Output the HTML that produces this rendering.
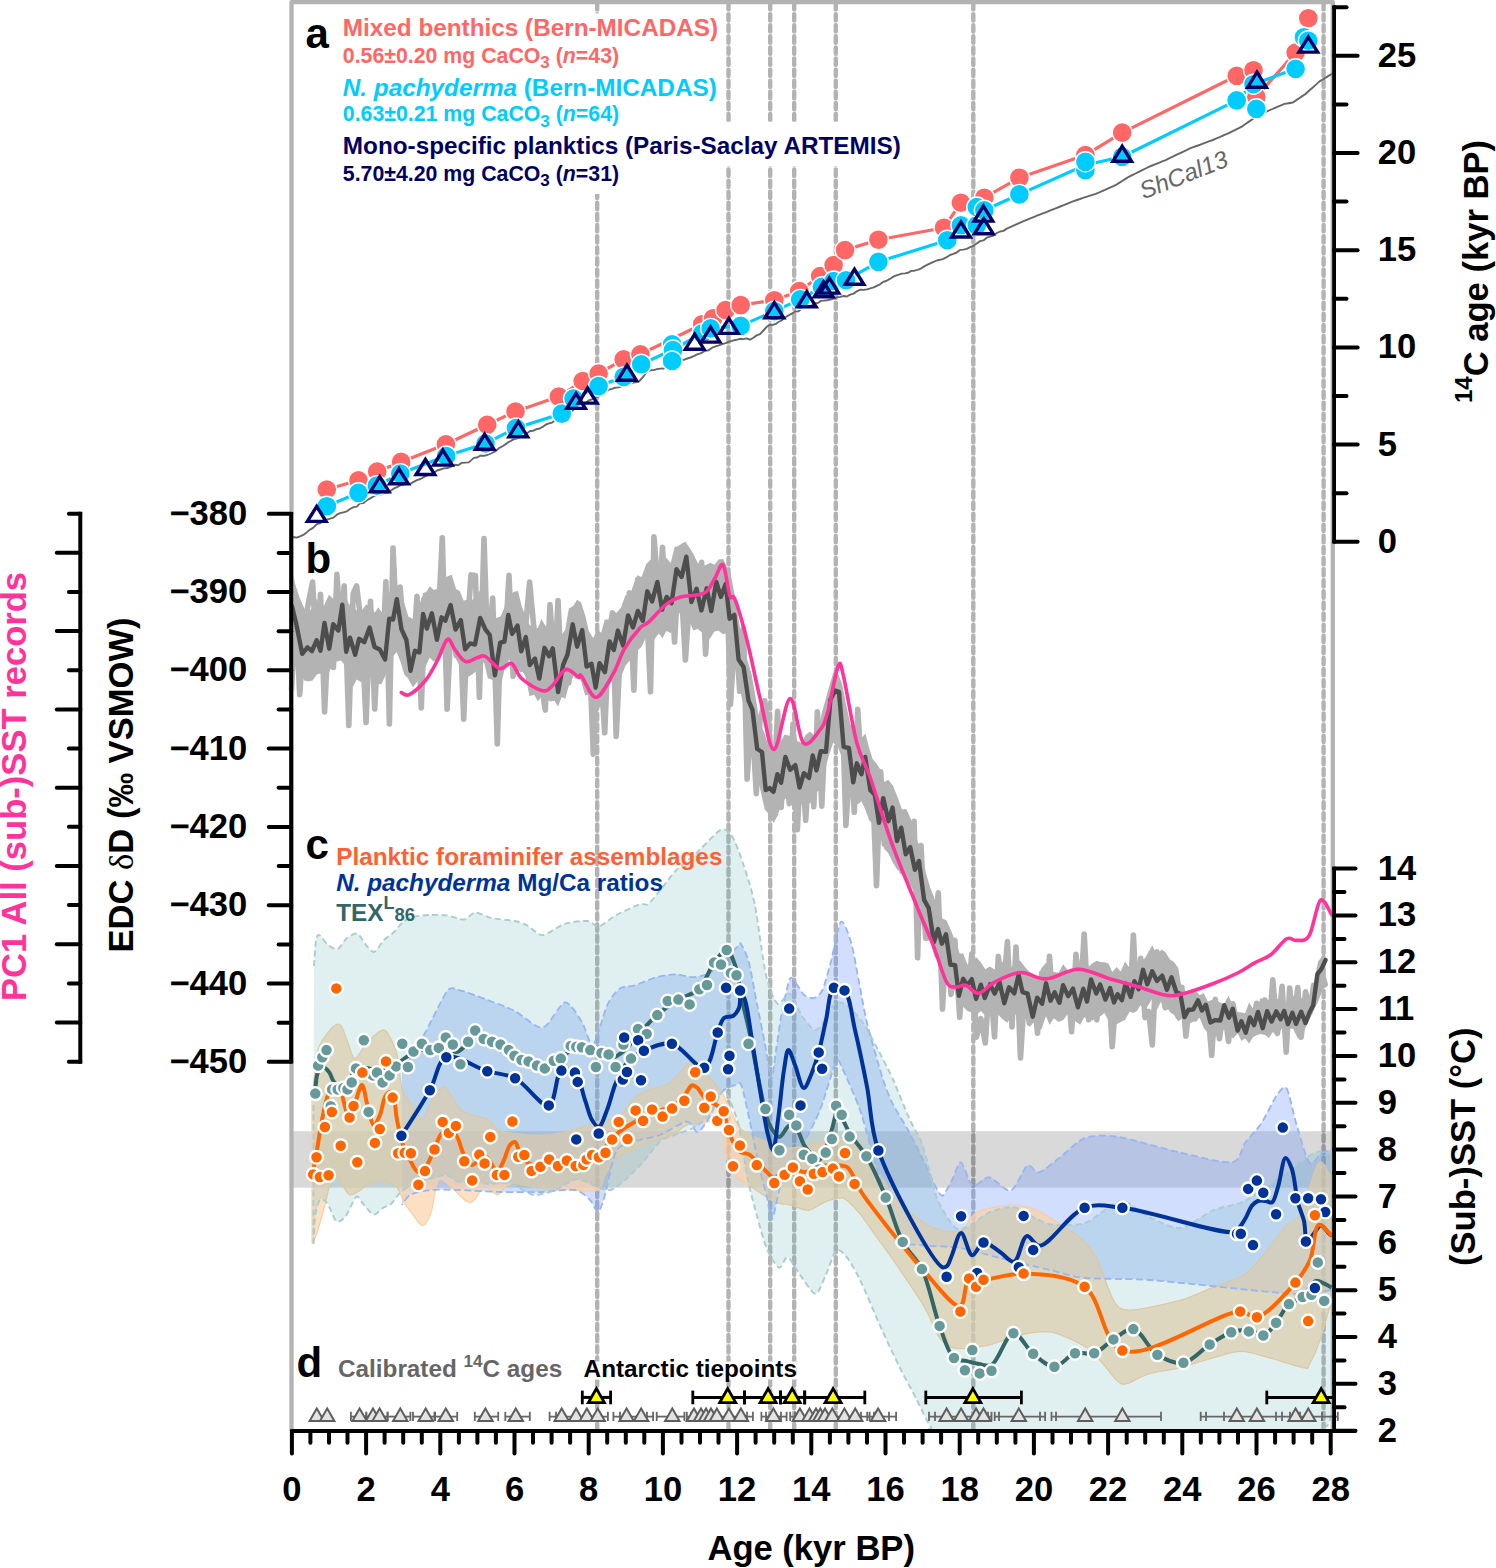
<!DOCTYPE html>
<html><head><meta charset="utf-8"><style>html,body{margin:0;padding:0;background:#fff;}svg{display:block;}</style></head>
<body><svg width="1496" height="1568" viewBox="0 0 1496 1568">
<rect width="1496" height="1568" fill="#fff"/>
<line x1="597.2" y1="3" x2="597.2" y2="1430" stroke="#b3b3b3" stroke-width="4.4" stroke-dasharray="6.4 4.7" stroke-linecap="round"/>
<line x1="728.5" y1="3" x2="728.5" y2="1430" stroke="#b3b3b3" stroke-width="4.4" stroke-dasharray="6.4 4.7" stroke-linecap="round"/>
<line x1="770.2" y1="3" x2="770.2" y2="1430" stroke="#b3b3b3" stroke-width="4.4" stroke-dasharray="6.4 4.7" stroke-linecap="round"/>
<line x1="794.2" y1="3" x2="794.2" y2="1430" stroke="#b3b3b3" stroke-width="4.4" stroke-dasharray="6.4 4.7" stroke-linecap="round"/>
<line x1="835.8" y1="3" x2="835.8" y2="1430" stroke="#b3b3b3" stroke-width="4.4" stroke-dasharray="6.4 4.7" stroke-linecap="round"/>
<line x1="973.3" y1="3" x2="973.3" y2="1430" stroke="#b3b3b3" stroke-width="4.4" stroke-dasharray="6.4 4.7" stroke-linecap="round"/>
<line x1="1323.6" y1="3" x2="1323.6" y2="1430" stroke="#b3b3b3" stroke-width="4.4" stroke-dasharray="6.4 4.7" stroke-linecap="round"/>
<rect x="292" y="1131.2" width="1039" height="56.5" fill="#000" fill-opacity="0.149"/>
<path d="M402 1072 C405.1 1066.8 419 1043.8 425 1033 C431 1022.2 442.7 997 447.2 991.2 C451.7 985.4 453.2 988.7 458.4 989.8 C463.6 990.9 479 996.8 486.5 999.6 C494 1002.4 507 1007.1 514.5 1010.8 C522 1014.5 535.9 1028.8 542.6 1027.7 C549.3 1026.6 559.8 1003.1 565 1002.4 C570.2 1001.7 578.2 1016.5 581.9 1022.1 C585.6 1027.7 589.7 1046.8 593.1 1044.5 C596.5 1042.2 603.6 1012.7 607.2 1005.2 C610.8 997.7 616.4 991 620 988.4 C623.6 985.8 629.1 987.1 634 985.6 C638.9 984.1 650.9 978.7 656.5 977.2 C662.1 975.7 671.1 974.4 676 974.4 C680.9 974.4 688.5 977.4 693 977.2 C697.5 977 705.7 975.3 709.8 973 C713.9 970.7 720.1 963.9 723.8 960.3 C727.5 956.7 735.6 948.5 737.9 946.3 C740.2 944.1 739.5 941.8 741 944 C742.5 946.2 746.9 955 749 963 C751.1 971 754.9 993.2 757 1004 C759.1 1014.8 763.1 1034 765 1044 C766.9 1054 769.9 1078.2 771.4 1079 C772.9 1079.8 774.6 1058.7 776 1050 C777.4 1041.3 779.8 1023.5 781.6 1014 C783.4 1004.5 787.9 983.1 789.8 979 C791.7 974.9 794 980.9 795.9 983 C797.8 985.1 801.6 993 804.1 995 C806.6 997 811.9 998.7 814.3 998 C816.7 997.3 820.2 994.7 822.4 990 C824.6 985.3 828.1 972.1 830.6 963 C833.1 953.9 838.1 924.8 840.8 922 C843.5 919.2 848.5 933.9 851 942 C853.5 950.1 857 972.1 859.2 983 C861.4 993.9 864.1 1011.1 867.3 1024 C870.5 1036.9 879.6 1068.8 883 1079.5 C886.4 1090.2 889.7 1097.7 893 1104.4 C896.3 1111.1 904 1122.7 908 1130 C912 1137.3 919.1 1151.5 922.8 1159.1 C926.5 1166.7 933.3 1182.4 936 1187.3 C938.7 1192.2 940.6 1196.6 942.7 1195.6 C944.8 1194.6 949.6 1184.4 952 1180 C954.4 1175.6 958.3 1161.7 961 1162.4 C963.7 1163.1 968.8 1183.6 972.6 1185.6 C976.4 1187.6 984.1 1176.6 989.2 1177.3 C994.3 1178 1005.6 1192.1 1010.7 1190.6 C1015.8 1189.1 1023.5 1168.1 1027.3 1165.7 C1031.1 1163.3 1034.5 1173.5 1038.9 1172.4 C1043.3 1171.3 1053.9 1162 1060 1157.4 C1066.1 1152.8 1077 1141 1084.6 1138.2 C1092.2 1135.4 1103.9 1134.7 1116.7 1136.6 C1129.5 1138.5 1165.4 1149.3 1180.8 1152.7 C1196.2 1156.1 1223.6 1163.6 1232.2 1162.3 C1240.8 1161 1241.2 1148.1 1245 1143 C1248.8 1137.9 1256.7 1130.2 1261 1123.8 C1265.3 1117.4 1273.7 1099.6 1277.1 1094.9 C1280.5 1090.2 1284.1 1084.6 1286.7 1088.5 C1289.3 1092.4 1293.3 1114 1296.3 1123.8 C1299.3 1133.6 1305.8 1158.4 1309.2 1162.3 C1312.6 1166.2 1319.1 1154.3 1322 1152.7 C1324.9 1151.1 1329.8 1150.4 1331 1150 L1331 1290 C1326.9 1290.5 1310.8 1294 1300 1294 C1289.2 1294 1270 1291.9 1250 1290 C1230 1288.1 1172 1281.6 1150 1280 C1128 1278.4 1098.3 1279.3 1085 1278 C1071.7 1276.7 1061.3 1272.7 1050 1270 C1038.7 1267.3 1012 1260.9 1000 1258 C988 1255.1 970.7 1249.7 960 1248 C949.3 1246.3 927.6 1246.1 920 1245 C912.4 1243.9 907.5 1246.5 903 1240 C898.5 1233.5 889.7 1206.4 886 1196 C882.3 1185.6 878.5 1173.5 875 1162 C871.5 1150.5 864.3 1122.3 860 1110 C855.7 1097.7 846.2 1076.4 843 1070 C839.8 1063.6 839.1 1056.7 836 1062 C832.9 1067.3 824.8 1098.3 820 1110 C815.2 1121.7 805 1140.8 800 1150 C795 1159.2 786.2 1169.8 782.5 1179 C778.8 1188.2 774.2 1216.7 772.1 1219 C770 1221.3 768.7 1204 766.8 1196.4 C764.9 1188.8 761.4 1176.1 758.2 1161.7 C755 1147.3 745.5 1098.9 742.5 1088.7 C739.5 1078.5 738.4 1084.7 735.6 1085.2 C732.8 1085.7 725.4 1087.5 721.7 1092.1 C718 1096.7 711.1 1114.7 707.8 1120 C704.5 1125.3 700.1 1131.9 697.3 1132.1 C694.5 1132.3 691.9 1121.3 686.9 1121.7 C681.9 1122.1 666.3 1132.6 660 1135 C653.7 1137.4 645.7 1138 640 1140 C634.3 1142 621.7 1142.7 617 1150 C612.3 1157.3 607.5 1186.7 605 1195 C602.5 1203.3 600 1211.3 598 1212 C596 1212.7 593.1 1202.9 590 1200 C586.9 1197.1 581.7 1191.1 575 1190 C568.3 1188.9 550 1191.7 540 1192 C530 1192.3 510.7 1192.3 500 1192 C489.3 1191.7 469.3 1190.3 460 1190 C450.7 1189.7 436.7 1189.3 430 1190 C423.3 1190.7 413.7 1193 410 1195 C406.3 1197 403.1 1203.7 402 1205 Z" fill="rgb(111,152,249)" fill-opacity="0.32" stroke="none"/>
<path d="M312 1100 C312.8 1093.3 315.3 1059.6 318 1050 C320.7 1040.4 329.1 1031 332.1 1027.7 C335.1 1024.4 338.5 1023.3 340.5 1024.9 C342.5 1026.5 345.1 1035.5 347 1040 C348.9 1044.5 352.1 1058 354.6 1058.6 C357.1 1059.2 363.1 1047.6 365.8 1044.5 C368.5 1041.4 372.4 1036.9 375 1035 C377.6 1033.1 382.5 1028.1 385.4 1030.5 C388.3 1032.9 394.3 1045 396.6 1052.9 C398.9 1060.8 400 1082.9 402.3 1090 C404.6 1097.1 410.8 1102.5 413.5 1106.5 C416.2 1110.5 420 1120.3 422.4 1119.7 C424.8 1119.1 428.3 1106.4 431.2 1102 C434.1 1097.6 440.3 1085.4 444.4 1086.6 C448.5 1087.8 456.2 1106.5 462.1 1110.9 C468 1115.3 483.5 1117.1 488.5 1119.7 C493.5 1122.3 493.7 1128.6 499.6 1130.7 C505.5 1132.8 524.6 1134.9 532.7 1135.2 C540.8 1135.5 551.2 1134.8 560 1133 C568.8 1131.2 590.8 1124.3 598.8 1121.9 C606.8 1119.5 615.2 1118.6 620 1115.3 C624.8 1112 630.5 1100.9 634.8 1097.4 C639.1 1093.9 647.5 1090.6 652.1 1088.7 C656.7 1086.8 664.9 1086.7 669.5 1083.4 C674.1 1080.1 683.7 1067.5 686.9 1064.3 C690.1 1061.1 691.5 1058.2 693.8 1059.1 C696.1 1060 700.6 1066.9 704.3 1071.3 C708 1075.7 718 1086.5 721.7 1092.1 C725.4 1097.7 729.3 1107.9 732.1 1113 C734.9 1118.1 736.9 1126.2 742.5 1130.4 C748.1 1134.6 767.3 1142 773.8 1144.3 C780.3 1146.6 786.6 1147.8 791.2 1147.8 C795.8 1147.8 803.9 1145.2 808.5 1144.3 C813.1 1143.4 821.3 1141.7 825.9 1140.8 C830.5 1139.9 839.4 1137.7 843.3 1137.3 C847.2 1136.9 851.2 1134.7 855 1138 C858.8 1141.3 866.7 1154.1 872 1162 C877.3 1169.9 888.3 1189 895 1197 C901.7 1205 915.3 1217.5 922 1222 C928.7 1226.5 939.5 1229.9 945 1231 C950.5 1232.1 958.7 1232.5 963 1230 C967.3 1227.5 970.5 1215.3 977 1212 C983.5 1208.7 1004.1 1205.3 1012 1205 C1019.9 1204.7 1030.4 1208 1036 1210 C1041.6 1212 1049.3 1217.2 1054 1220 C1058.7 1222.8 1066.9 1228.1 1071 1231 C1075.1 1233.9 1081.5 1238.3 1085 1242 C1088.5 1245.7 1093 1250.9 1097 1259 C1101 1267.1 1110.2 1296.2 1115 1303 C1119.8 1309.8 1123.9 1310.3 1132.7 1309.9 C1141.5 1309.5 1170.1 1303.2 1180.8 1300.2 C1191.5 1297.2 1204.3 1290.8 1212.9 1287.4 C1221.5 1284 1237.3 1280.2 1245 1274.6 C1252.7 1269 1265.1 1252.3 1270.7 1245.7 C1276.3 1239.1 1282.8 1228.9 1286.7 1224.8 C1290.6 1220.7 1296.1 1222.5 1300 1215 C1303.9 1207.5 1312.7 1175.7 1315.6 1168.7 C1318.5 1161.7 1319.9 1161 1322 1162.3 C1324.1 1163.6 1330.3 1176.2 1331.6 1178.3 L1331.6 1300 C1330.1 1305.3 1323 1331.4 1320 1340 C1317 1348.6 1311.5 1360.7 1309.2 1364.4 C1306.9 1368.1 1311.3 1369.3 1302.7 1367.6 C1294.1 1365.9 1257 1352.9 1245 1351.6 C1233 1350.3 1221.5 1355.9 1212.9 1358 C1204.3 1360.1 1189.4 1365.5 1180.8 1367.6 C1172.2 1369.7 1156 1371.9 1148.7 1374 C1141.4 1376.1 1130.6 1382.8 1126.3 1383.7 C1122 1384.6 1121.5 1384.9 1116.7 1380.4 C1111.9 1375.9 1098.6 1356.4 1090 1350 C1081.4 1343.6 1061.8 1334.3 1052.5 1332.3 C1043.2 1330.3 1028.6 1333.3 1020 1335 C1011.4 1336.7 996.8 1343.4 988.3 1345.2 C979.8 1347 962.6 1349.3 956.2 1348.4 C949.8 1347.5 944.5 1344.3 940.2 1338.7 C935.9 1333.1 930.6 1317.4 924.2 1306.7 C917.8 1296 898.7 1268.1 892.1 1258.5 C885.5 1248.9 879.3 1241 875 1235 C870.7 1229 864.2 1218.7 860 1213.8 C855.8 1208.9 847.8 1199.8 843.3 1198.2 C838.8 1196.6 830.5 1200 825.9 1201.6 C821.3 1203.2 813.1 1209.8 808.5 1210.3 C803.9 1210.8 795.8 1206.3 791.2 1205.1 C786.6 1203.9 779.6 1204.4 773.8 1201.6 C768 1198.8 752.3 1187.2 747.7 1184.2 C743.1 1181.2 741.1 1180.6 739 1179 C736.9 1177.4 734 1175.6 732.1 1172.1 C730.2 1168.6 726.5 1159.5 725.1 1153 C723.7 1146.5 725.9 1127.3 721.7 1123.4 C717.5 1119.5 698.9 1122.9 693.8 1123.4 C688.7 1123.9 686.6 1125 683.4 1126.9 C680.2 1128.8 673.7 1135.4 669.5 1137.3 C665.3 1139.2 656.7 1139.4 652.1 1140.8 C647.5 1142.2 639.4 1145.5 634.8 1147.8 C630.2 1150.1 621.4 1154.6 617.4 1158.2 C613.4 1161.8 607.5 1170.8 605 1175 C602.5 1179.2 602.6 1188 598.8 1190 C595 1192 584.6 1190.6 576.8 1190.3 C569 1190 548.2 1188.9 540 1188 C531.8 1187.1 519.5 1184 515 1183.7 C510.5 1183.4 508.5 1184.4 506.2 1185.9 C503.9 1187.4 500.3 1194.7 497.4 1194.7 C494.5 1194.7 487 1185.3 484.1 1185.9 C481.2 1186.5 477.6 1197 475.3 1199.1 C473 1201.2 471.2 1203.9 466.5 1201.3 C461.8 1198.7 444.7 1177.8 440 1179.3 C435.3 1180.8 433.5 1206.2 431.2 1212.4 C428.9 1218.6 425.1 1225.6 422.4 1225.6 C419.7 1225.6 413.7 1215.3 411.3 1212.4 C408.9 1209.5 406.8 1207 404.7 1203.5 C402.6 1200 399.2 1189 395.9 1185.9 C392.6 1182.8 383.5 1180.3 380 1180 C376.5 1179.7 373.5 1181.7 369.4 1183.7 C365.3 1185.7 354.3 1196.2 349.6 1194.7 C344.9 1193.2 337.3 1171.5 334.1 1172.7 C330.9 1173.9 327.6 1195.3 325.3 1203.5 C323 1211.7 318.3 1229.1 316.5 1234.4 C314.7 1239.7 312.7 1242 312.1 1243.2 Z" fill="rgb(252,211,169)" fill-opacity="0.7" stroke="rgb(250,205,160)" stroke-width="1.2"/>
<path d="M314 966 C314.3 962.5 315.3 944.1 316 940 C316.7 935.9 317.9 934.3 319.5 935 C321.1 935.7 325.6 943.1 328 945 C330.4 946.9 335.2 949.9 337.7 949 C340.2 948.1 344.4 940 347 938 C349.6 936 354.9 932.8 357.4 933.7 C359.9 934.6 363.8 942.6 366 945 C368.2 947.4 371.8 952.6 374.2 951.9 C376.6 951.2 381.4 942.6 384 940 C386.6 937.4 391.3 934.7 393.8 932.3 C396.3 929.9 400.4 924.1 403 922 C405.6 919.9 409.9 917.7 413.5 916.8 C417.1 915.9 425.5 915.2 430 915 C434.5 914.8 442.7 914.8 447.2 915.4 C451.7 916 460.3 920 464 919.6 C467.7 919.2 471.5 912.8 475.2 912.6 C478.9 912.4 486.9 917.1 492.1 918.2 C497.3 919.3 509.7 920 514.5 921 C519.3 922 524.3 924.1 528 926 C531.7 927.9 537.7 935.4 542.6 935.1 C547.5 934.8 559 925.7 565 923.8 C571 921.9 583 920.6 587.5 921 C592 921.4 595 927.3 598.7 926.6 C602.4 925.9 610.1 918.4 615.6 915.4 C621.1 912.4 635.7 905.7 640 904.2 C644.3 902.7 645.2 906.4 648.1 904.2 C651 902 658.3 892.5 662 888 C665.7 883.5 671.2 875.4 676.1 870.5 C681 865.6 692.6 856.3 698.6 850.9 C704.6 845.5 716.5 831.7 721 829.8 C725.5 827.9 729.3 832.1 732.3 836.8 C735.3 841.5 740.5 855.9 743.5 864.9 C746.5 873.9 751.7 889.5 754.7 904.2 C757.7 918.9 762.9 961.7 766 975 C769.1 988.3 774.4 1001.2 777.6 1003.7 C780.8 1006.2 786.5 991.9 789.8 993.5 C793.1 995.1 798.7 1011.1 802 1016 C805.3 1020.9 811.6 1028.9 814.3 1030 C817 1031.1 819.7 1027.5 822.4 1024 C825.1 1020.5 831.5 1006.2 834.7 1003.7 C837.9 1001.2 842.7 1002.4 846.5 1005 C850.3 1007.6 858.9 1017.1 863.1 1023.1 C867.3 1029.1 874 1042.2 878 1049.7 C882 1057.2 888.8 1070.2 893 1079.5 C897.2 1088.8 905.6 1110.5 909.6 1119.3 C913.6 1128.1 919.3 1135.6 922.8 1145.8 C926.3 1156 932.5 1185.6 936 1195.6 C939.5 1205.6 946.3 1216 949.4 1220.5 C952.5 1225 956.1 1229.5 959.5 1229.7 C962.9 1229.9 970.9 1224.4 975 1222 C979.1 1219.6 984.8 1214 990 1212 C995.2 1210 1008 1206.4 1014 1207.2 C1020 1208 1029.9 1215.7 1035 1218 C1040.1 1220.3 1045.9 1224.1 1052.5 1224.8 C1059.1 1225.5 1077.6 1225.2 1084.6 1223.2 C1091.6 1221.2 1099.9 1213 1105 1210 C1110.1 1207 1117.2 1199.9 1123 1200.8 C1128.8 1201.7 1141 1213.2 1148.7 1216.8 C1156.4 1220.4 1172.2 1228.9 1180.8 1228 C1189.4 1227.1 1204.3 1214 1212.9 1210.4 C1221.5 1206.8 1236.4 1205.1 1245 1200.8 C1253.6 1196.5 1268.5 1184.3 1277.1 1178.3 C1285.7 1172.3 1303.2 1159.5 1309.2 1155.9 C1315.2 1152.3 1319.1 1151.2 1322 1151.1 C1324.9 1151 1329.8 1154.5 1331 1155 L1331 1415 C1330.5 1416.5 1329.3 1423.9 1327 1426 C1324.7 1428.1 1318.9 1430.3 1314 1431 C1309.1 1431.7 1339.2 1431 1290 1431 C1240.8 1431 992.9 1431.5 945 1431 C897.1 1430.5 934.9 1431.4 931 1427 C927.1 1422.6 920.1 1405.9 916 1398 C911.9 1390.1 904.5 1377.1 900 1368 C895.5 1358.9 887.3 1341.8 882 1330 C876.7 1318.2 864.7 1289.5 860 1279.8 C855.3 1270.1 849.9 1261.1 846.8 1257.2 C843.7 1253.3 839.2 1248 836.4 1250.3 C833.6 1252.6 828.7 1268.8 825.9 1274.6 C823.1 1280.4 819 1293.7 815.5 1293.7 C812 1293.7 803.6 1279.5 799.9 1274.6 C796.2 1269.7 790.5 1258.1 787.7 1257.2 C784.9 1256.3 781.8 1268.8 779 1267.7 C776.2 1266.6 769.8 1255.8 766.8 1248.6 C763.8 1241.4 758.9 1223.1 756.4 1213.8 C753.9 1204.5 750 1190.6 747.7 1179 C745.4 1167.4 741.5 1137.9 739 1127 C736.5 1116.1 730.9 1102.1 728.6 1097.4 C726.3 1092.7 724 1090 721.7 1092.1 C719.4 1094.2 714.7 1108.4 711.2 1113 C707.7 1117.6 700 1124.1 695.6 1126.9 C691.2 1129.7 682.8 1131.9 678.2 1133.8 C673.6 1135.7 665.4 1137.1 660.8 1140.8 C656.2 1144.5 648 1156.6 643.4 1161.7 C638.8 1166.8 630.2 1175.3 626 1179 C621.8 1182.7 615.5 1188.3 612 1189.5 C608.5 1190.7 604.7 1189.4 600 1188 C595.3 1186.6 582.8 1179 576.8 1179.3 C570.8 1179.6 560.6 1188.2 554.7 1190.3 C548.8 1192.4 538.6 1195.6 532.7 1194.7 C526.8 1193.8 516.5 1185.2 510.6 1183.7 C504.7 1182.2 495.6 1184 488.5 1183.7 C481.4 1183.4 463.6 1182.7 457.7 1181.5 C451.8 1180.3 450.6 1174.3 444.4 1174.9 C438.2 1175.5 417.2 1183.6 411.3 1185.9 C405.4 1188.2 402.9 1190.2 400.3 1192.5 C397.7 1194.8 393.8 1201.4 391.5 1203.5 C389.2 1205.6 385.1 1206.5 382.7 1208 C380.3 1209.5 376.5 1215.2 373.8 1214.6 C371.1 1214 365.1 1205.9 362.8 1203.5 C360.5 1201.1 358.5 1195.1 356.2 1196.9 C353.9 1198.7 347.9 1213.6 345.2 1216.8 C342.5 1220 338.7 1223 336.3 1221.2 C333.9 1219.4 329.6 1206.4 327.5 1203.5 C325.4 1200.6 322.4 1198.5 320.9 1199.1 C319.4 1199.7 317.4 1204.5 316.5 1208 C315.6 1211.5 314.7 1221.3 314.3 1225.6 C313.9 1229.9 313.6 1256.7 313.5 1240 C313.4 1223.3 313.5 1118.7 313.5 1100 Z" fill="rgb(100,178,178)" fill-opacity="0.2" stroke="none"/>
<path d="M402 1072 C405.1 1066.8 419 1043.8 425 1033 C431 1022.2 442.7 997 447.2 991.2 C451.7 985.4 453.2 988.7 458.4 989.8 C463.6 990.9 479 996.8 486.5 999.6 C494 1002.4 507 1007.1 514.5 1010.8 C522 1014.5 535.9 1028.8 542.6 1027.7 C549.3 1026.6 559.8 1003.1 565 1002.4 C570.2 1001.7 578.2 1016.5 581.9 1022.1 C585.6 1027.7 589.7 1046.8 593.1 1044.5 C596.5 1042.2 603.6 1012.7 607.2 1005.2 C610.8 997.7 616.4 991 620 988.4 C623.6 985.8 629.1 987.1 634 985.6 C638.9 984.1 650.9 978.7 656.5 977.2 C662.1 975.7 671.1 974.4 676 974.4 C680.9 974.4 688.5 977.4 693 977.2 C697.5 977 705.7 975.3 709.8 973 C713.9 970.7 720.1 963.9 723.8 960.3 C727.5 956.7 735.6 948.5 737.9 946.3 C740.2 944.1 739.5 941.8 741 944 C742.5 946.2 746.9 955 749 963 C751.1 971 754.9 993.2 757 1004 C759.1 1014.8 763.1 1034 765 1044 C766.9 1054 769.9 1078.2 771.4 1079 C772.9 1079.8 774.6 1058.7 776 1050 C777.4 1041.3 779.8 1023.5 781.6 1014 C783.4 1004.5 787.9 983.1 789.8 979 C791.7 974.9 794 980.9 795.9 983 C797.8 985.1 801.6 993 804.1 995 C806.6 997 811.9 998.7 814.3 998 C816.7 997.3 820.2 994.7 822.4 990 C824.6 985.3 828.1 972.1 830.6 963 C833.1 953.9 838.1 924.8 840.8 922 C843.5 919.2 848.5 933.9 851 942 C853.5 950.1 857 972.1 859.2 983 C861.4 993.9 864.1 1011.1 867.3 1024 C870.5 1036.9 879.6 1068.8 883 1079.5 C886.4 1090.2 889.7 1097.7 893 1104.4 C896.3 1111.1 904 1122.7 908 1130 C912 1137.3 919.1 1151.5 922.8 1159.1 C926.5 1166.7 933.3 1182.4 936 1187.3 C938.7 1192.2 940.6 1196.6 942.7 1195.6 C944.8 1194.6 949.6 1184.4 952 1180 C954.4 1175.6 958.3 1161.7 961 1162.4 C963.7 1163.1 968.8 1183.6 972.6 1185.6 C976.4 1187.6 984.1 1176.6 989.2 1177.3 C994.3 1178 1005.6 1192.1 1010.7 1190.6 C1015.8 1189.1 1023.5 1168.1 1027.3 1165.7 C1031.1 1163.3 1034.5 1173.5 1038.9 1172.4 C1043.3 1171.3 1053.9 1162 1060 1157.4 C1066.1 1152.8 1077 1141 1084.6 1138.2 C1092.2 1135.4 1103.9 1134.7 1116.7 1136.6 C1129.5 1138.5 1165.4 1149.3 1180.8 1152.7 C1196.2 1156.1 1223.6 1163.6 1232.2 1162.3 C1240.8 1161 1241.2 1148.1 1245 1143 C1248.8 1137.9 1256.7 1130.2 1261 1123.8 C1265.3 1117.4 1273.7 1099.6 1277.1 1094.9 C1280.5 1090.2 1284.1 1084.6 1286.7 1088.5 C1289.3 1092.4 1293.3 1114 1296.3 1123.8 C1299.3 1133.6 1305.8 1158.4 1309.2 1162.3 C1312.6 1166.2 1319.1 1154.3 1322 1152.7 C1324.9 1151.1 1329.8 1150.4 1331 1150" fill="none" stroke="rgb(150,182,245)" stroke-width="1.8" stroke-dasharray="7 3.5"/>
<path d="M1331 1290 C1326.9 1290.5 1310.8 1294 1300 1294 C1289.2 1294 1270 1291.9 1250 1290 C1230 1288.1 1172 1281.6 1150 1280 C1128 1278.4 1098.3 1279.3 1085 1278 C1071.7 1276.7 1061.3 1272.7 1050 1270 C1038.7 1267.3 1012 1260.9 1000 1258 C988 1255.1 970.7 1249.7 960 1248 C949.3 1246.3 927.6 1246.1 920 1245 C912.4 1243.9 907.5 1246.5 903 1240 C898.5 1233.5 889.7 1206.4 886 1196 C882.3 1185.6 878.5 1173.5 875 1162 C871.5 1150.5 864.3 1122.3 860 1110 C855.7 1097.7 846.2 1076.4 843 1070 C839.8 1063.6 839.1 1056.7 836 1062 C832.9 1067.3 824.8 1098.3 820 1110 C815.2 1121.7 805 1140.8 800 1150 C795 1159.2 786.2 1169.8 782.5 1179 C778.8 1188.2 774.2 1216.7 772.1 1219 C770 1221.3 768.7 1204 766.8 1196.4 C764.9 1188.8 761.4 1176.1 758.2 1161.7 C755 1147.3 745.5 1098.9 742.5 1088.7 C739.5 1078.5 738.4 1084.7 735.6 1085.2 C732.8 1085.7 725.4 1087.5 721.7 1092.1 C718 1096.7 711.1 1114.7 707.8 1120 C704.5 1125.3 700.1 1131.9 697.3 1132.1 C694.5 1132.3 691.9 1121.3 686.9 1121.7 C681.9 1122.1 666.3 1132.6 660 1135 C653.7 1137.4 645.7 1138 640 1140 C634.3 1142 621.7 1142.7 617 1150 C612.3 1157.3 607.5 1186.7 605 1195 C602.5 1203.3 600 1211.3 598 1212 C596 1212.7 593.1 1202.9 590 1200 C586.9 1197.1 581.7 1191.1 575 1190 C568.3 1188.9 550 1191.7 540 1192 C530 1192.3 510.7 1192.3 500 1192 C489.3 1191.7 469.3 1190.3 460 1190 C450.7 1189.7 436.7 1189.3 430 1190 C423.3 1190.7 413.7 1193 410 1195 C406.3 1197 403.1 1203.7 402 1205" fill="none" stroke="rgb(150,182,245)" stroke-width="1.8" stroke-dasharray="7 3.5"/>
<path d="M314 966 C314.3 962.5 315.3 944.1 316 940 C316.7 935.9 317.9 934.3 319.5 935 C321.1 935.7 325.6 943.1 328 945 C330.4 946.9 335.2 949.9 337.7 949 C340.2 948.1 344.4 940 347 938 C349.6 936 354.9 932.8 357.4 933.7 C359.9 934.6 363.8 942.6 366 945 C368.2 947.4 371.8 952.6 374.2 951.9 C376.6 951.2 381.4 942.6 384 940 C386.6 937.4 391.3 934.7 393.8 932.3 C396.3 929.9 400.4 924.1 403 922 C405.6 919.9 409.9 917.7 413.5 916.8 C417.1 915.9 425.5 915.2 430 915 C434.5 914.8 442.7 914.8 447.2 915.4 C451.7 916 460.3 920 464 919.6 C467.7 919.2 471.5 912.8 475.2 912.6 C478.9 912.4 486.9 917.1 492.1 918.2 C497.3 919.3 509.7 920 514.5 921 C519.3 922 524.3 924.1 528 926 C531.7 927.9 537.7 935.4 542.6 935.1 C547.5 934.8 559 925.7 565 923.8 C571 921.9 583 920.6 587.5 921 C592 921.4 595 927.3 598.7 926.6 C602.4 925.9 610.1 918.4 615.6 915.4 C621.1 912.4 635.7 905.7 640 904.2 C644.3 902.7 645.2 906.4 648.1 904.2 C651 902 658.3 892.5 662 888 C665.7 883.5 671.2 875.4 676.1 870.5 C681 865.6 692.6 856.3 698.6 850.9 C704.6 845.5 716.5 831.7 721 829.8 C725.5 827.9 729.3 832.1 732.3 836.8 C735.3 841.5 740.5 855.9 743.5 864.9 C746.5 873.9 751.7 889.5 754.7 904.2 C757.7 918.9 762.9 961.7 766 975 C769.1 988.3 774.4 1001.2 777.6 1003.7 C780.8 1006.2 786.5 991.9 789.8 993.5 C793.1 995.1 798.7 1011.1 802 1016 C805.3 1020.9 811.6 1028.9 814.3 1030 C817 1031.1 819.7 1027.5 822.4 1024 C825.1 1020.5 831.5 1006.2 834.7 1003.7 C837.9 1001.2 842.7 1002.4 846.5 1005 C850.3 1007.6 858.9 1017.1 863.1 1023.1 C867.3 1029.1 874 1042.2 878 1049.7 C882 1057.2 888.8 1070.2 893 1079.5 C897.2 1088.8 905.6 1110.5 909.6 1119.3 C913.6 1128.1 919.3 1135.6 922.8 1145.8 C926.3 1156 932.5 1185.6 936 1195.6 C939.5 1205.6 946.3 1216 949.4 1220.5 C952.5 1225 956.1 1229.5 959.5 1229.7 C962.9 1229.9 970.9 1224.4 975 1222 C979.1 1219.6 984.8 1214 990 1212 C995.2 1210 1008 1206.4 1014 1207.2 C1020 1208 1029.9 1215.7 1035 1218 C1040.1 1220.3 1045.9 1224.1 1052.5 1224.8 C1059.1 1225.5 1077.6 1225.2 1084.6 1223.2 C1091.6 1221.2 1099.9 1213 1105 1210 C1110.1 1207 1117.2 1199.9 1123 1200.8 C1128.8 1201.7 1141 1213.2 1148.7 1216.8 C1156.4 1220.4 1172.2 1228.9 1180.8 1228 C1189.4 1227.1 1204.3 1214 1212.9 1210.4 C1221.5 1206.8 1236.4 1205.1 1245 1200.8 C1253.6 1196.5 1268.5 1184.3 1277.1 1178.3 C1285.7 1172.3 1303.2 1159.5 1309.2 1155.9 C1315.2 1152.3 1319.1 1151.2 1322 1151.1 C1324.9 1151 1329.8 1154.5 1331 1155" fill="none" stroke="rgb(170,205,207)" stroke-width="1.9" stroke-dasharray="6 3.5"/>
<path d="M1331 1415 C1330.5 1416.5 1329.3 1423.9 1327 1426 C1324.7 1428.1 1318.9 1430.3 1314 1431 C1309.1 1431.7 1339.2 1431 1290 1431 C1240.8 1431 992.9 1431.5 945 1431 C897.1 1430.5 934.9 1431.4 931 1427 C927.1 1422.6 920.1 1405.9 916 1398 C911.9 1390.1 904.5 1377.1 900 1368 C895.5 1358.9 887.3 1341.8 882 1330 C876.7 1318.2 864.7 1289.5 860 1279.8 C855.3 1270.1 849.9 1261.1 846.8 1257.2 C843.7 1253.3 839.2 1248 836.4 1250.3 C833.6 1252.6 828.7 1268.8 825.9 1274.6 C823.1 1280.4 819 1293.7 815.5 1293.7 C812 1293.7 803.6 1279.5 799.9 1274.6 C796.2 1269.7 790.5 1258.1 787.7 1257.2 C784.9 1256.3 781.8 1268.8 779 1267.7 C776.2 1266.6 769.8 1255.8 766.8 1248.6 C763.8 1241.4 758.9 1223.1 756.4 1213.8 C753.9 1204.5 750 1190.6 747.7 1179 C745.4 1167.4 741.5 1137.9 739 1127 C736.5 1116.1 730.9 1102.1 728.6 1097.4 C726.3 1092.7 724 1090 721.7 1092.1 C719.4 1094.2 714.7 1108.4 711.2 1113 C707.7 1117.6 700 1124.1 695.6 1126.9 C691.2 1129.7 682.8 1131.9 678.2 1133.8 C673.6 1135.7 665.4 1137.1 660.8 1140.8 C656.2 1144.5 648 1156.6 643.4 1161.7 C638.8 1166.8 630.2 1175.3 626 1179 C621.8 1182.7 615.5 1188.3 612 1189.5 C608.5 1190.7 604.7 1189.4 600 1188 C595.3 1186.6 582.8 1179 576.8 1179.3 C570.8 1179.6 560.6 1188.2 554.7 1190.3 C548.8 1192.4 538.6 1195.6 532.7 1194.7 C526.8 1193.8 516.5 1185.2 510.6 1183.7 C504.7 1182.2 495.6 1184 488.5 1183.7 C481.4 1183.4 463.6 1182.7 457.7 1181.5 C451.8 1180.3 450.6 1174.3 444.4 1174.9 C438.2 1175.5 417.2 1183.6 411.3 1185.9 C405.4 1188.2 402.9 1190.2 400.3 1192.5 C397.7 1194.8 393.8 1201.4 391.5 1203.5 C389.2 1205.6 385.1 1206.5 382.7 1208 C380.3 1209.5 376.5 1215.2 373.8 1214.6 C371.1 1214 365.1 1205.9 362.8 1203.5 C360.5 1201.1 358.5 1195.1 356.2 1196.9 C353.9 1198.7 347.9 1213.6 345.2 1216.8 C342.5 1220 338.7 1223 336.3 1221.2 C333.9 1219.4 329.6 1206.4 327.5 1203.5 C325.4 1200.6 322.4 1198.5 320.9 1199.1 C319.4 1199.7 317.4 1204.5 316.5 1208 C315.6 1211.5 314.7 1221.3 314.3 1225.6 C313.9 1229.9 313.6 1256.7 313.5 1240 C313.4 1223.3 313.5 1118.7 313.5 1100" fill="none" stroke="rgb(170,205,207)" stroke-width="1.9" stroke-dasharray="6 3.5"/>
<path d="M291.5 1431 L291.5 2.1 L1332.8 2.1 L1332.8 1431" fill="none" stroke="#b3b3b3" stroke-width="4.3" stroke-linejoin="round"/>
<path d="M290 537.6 L293.3 537 L296.7 537.6 L300 536.3 L303.3 534.9 L306.7 532.4 L310 529.6 L313.4 527.7 L316.7 524.2 L320.1 523.3 L323.4 521.2 L326.8 519.7 L330.1 518.6 L333.5 517.6 L336.8 514.7 L340.1 513.2 L343.4 512.3 L346.8 511.3 L350.1 509 L353.5 507.1 L356.8 506.6 L360.1 503.2 L363.5 503 L366.9 500.3 L370.2 498.4 L373.5 496.5 L376.9 495 L380.2 495 L383.6 493.1 L386.9 492.9 L390.3 491.1 L393.6 488.7 L397 487.1 L400.3 485.4 L403.6 484.5 L407 483.9 L410.3 483.9 L413.6 481.9 L417 480.1 L420.4 479 L423.7 477.2 L427 475.4 L430.4 474.7 L433.7 472.9 L437.1 470.5 L440.4 469.5 L443.9 468.4 L447.5 468 L451.1 466.7 L454.6 464.8 L458.2 465.2 L461.7 462.9 L465.2 462.6 L468.8 462.4 L473.8 457.9 L477.1 457.5 L480.5 455.7 L483.8 455.8 L487.2 455 L490.5 453.6 L494.7 451.7 L498.9 448.2 L503 446 L507.2 442.9 L510.4 441.2 L513.5 439.4 L516.7 438.5 L520 437.2 L523.4 434.8 L526.7 433.6 L530.1 431 L533.4 430.7 L536.5 429.2 L539.7 428.5 L542.8 426.8 L546 424.5 L549.1 423.3 L552.2 422.5 L555.4 420 L558.5 419.4 L561.8 416.7 L565.2 414.5 L568.5 412.2 L571.9 411.3 L575.2 407.9 L578.5 406.3 L581.9 404.7 L585.2 403.7 L588.6 400.5 L591.9 399.3 L595.2 397.6 L598.6 396.4 L601.9 394.5 L605.3 392.7 L608.6 389.8 L612 388.9 L615.3 387.6 L618.6 387.4 L622 386.4 L625.3 384.2 L628.7 383.5 L632 382.9 L635.4 382.2 L638.7 381.9 L642.9 377.1 L647 371.5 L650.4 370.2 L653.7 370.1 L657 369.1 L660.4 368.6 L663.8 368.5 L667.1 367.1 L670.5 364.8 L673.8 362.9 L677.1 361.8 L680.5 359.5 L683.8 359.9 L687.2 358.5 L690.5 357.5 L693.8 356.2 L697.2 354.4 L700.5 353.3 L704.4 351.1 L708.3 350.4 L712.2 347.7 L715.6 346.4 L718.9 345.4 L722.2 344.1 L725.6 343.1 L729.2 341.6 L732.8 340.6 L736.4 339.8 L740 338.8 L743.3 339.1 L746.7 338.3 L750 339.7 L753.3 337.7 L756.7 335.4 L760 334.1 L763.4 330.5 L766.7 326.8 L769.7 325 L772.7 324.9 L775.8 323.9 L778.8 321.6 L781.8 320.3 L785.1 317.5 L788.5 315.4 L791.8 313.7 L795.1 311.5 L798.5 311.2 L801.8 308.6 L805.2 307 L808.5 307.4 L811.9 305.3 L814.9 303.4 L817.9 303 L820.9 300.9 L823.9 300.6 L826.9 300.3 L830.2 299.5 L833.6 298.6 L836.9 297.3 L840.2 296.9 L843.6 296 L846.9 296.5 L850.2 294.6 L853.6 293.6 L856.9 291.3 L860.3 289.7 L863.6 289.9 L867 289.4 L870.4 288.3 L873.7 287.4 L876.8 285.9 L880 284.3 L883.1 281.9 L886.2 281 L889.4 279.2 L892.5 277.2 L895.7 275.7 L898.8 274.7 L901.9 273.6 L905 273.4 L908.2 272.8 L911.3 270.9 L914.4 270.7 L917.5 269.8 L920.7 268.7 L923.8 266.6 L927 264.9 L930.3 263.4 L933.5 261.9 L936.8 260.5 L940 259.8 L943.3 258.8 L946.7 257.2 L950 255 L953.4 253.8 L956.7 252.5 L960 249.9 L963.4 249.6 L966.7 248.8 L970.1 247.2 L973.4 245.9 L976.7 243.5 L980.1 241.1 L983.4 240.4 L986.8 237.7 L990.1 236.7 L993.4 235.5 L996.8 233 L1000.1 231.5 L1003.5 230.9 L1006.8 228.6 L1010.2 227.1 L1013.5 225.6 L1016.9 224.1 L1020.2 222.6 L1023.6 221.1 L1026.9 219.8 L1030.3 218.4 L1033.6 217.1 L1037 215.7 L1040.3 214.4 L1043.6 213.1 L1047 211.8 L1050.3 210.4 L1053.7 209.1 L1057 207.8 L1060.3 206.5 L1063.7 205.1 L1067 203.8 L1070.4 202.4 L1073.7 201.1 L1076.8 200 L1080 199 L1083.1 197.9 L1086.2 196.9 L1089.4 195.8 L1092.5 194.8 L1095.7 193.8 L1098.8 192.7 L1102.1 191.2 L1105.5 189.7 L1108.8 188.2 L1112.2 186.7 L1115.5 185.2 L1118.8 183.1 L1122.2 181 L1125.5 178.9 L1128.8 176.8 L1132.2 175.1 L1135.5 173.5 L1138.8 171.8 L1142.2 170.1 L1145.6 168.5 L1148.9 166.8 L1152.2 165.5 L1155.6 164.1 L1158.9 162.8 L1162.3 161.4 L1165.6 160.1 L1168.6 158.6 L1171.7 157.2 L1174.8 155.7 L1177.8 154.2 L1180.8 152.8 L1183.9 151.3 L1187 149.9 L1190 148.4 L1193.3 147.2 L1196.5 146 L1199.8 144.8 L1203 143.6 L1206.3 142.4 L1209.5 141.2 L1212.8 140 L1215.9 138.7 L1219 137.4 L1222.1 136 L1225.2 134.7 L1228.3 133.4 L1231.8 131.6 L1235.3 129.8 L1238.8 128.1 L1242.3 126.3 L1245.8 123.8 L1249.3 121.4 L1252.8 119 L1256.3 116.5 L1260.5 114.4 L1264.8 112.3 L1268.1 110.9 L1271.3 109.5 L1274.6 108.1 L1277.9 106.7 L1281.1 105.3 L1284.4 103.9 L1288.6 103.2 L1292.8 102.5 L1296 100.4 L1299.2 98.2 L1302.3 96.1 L1305.5 94 L1309 90.8 L1312.5 87.7 L1316 84.6 L1319.5 81.4 L1322.7 79.5 L1325.8 77.6 L1328.9 75.6 L1332.1 73.7" fill="none" stroke="#666" stroke-width="1.9" stroke-linejoin="round"/>
<path d="M326.8 489.5 L358.5 480.3 L377.2 471.6 L401.1 461.9 L445.9 444.3 L487.2 424.8 L515.5 411.5 L558.8 396.6 L582.7 381 L598.6 373.5 L623.7 359.3 L640.4 354.3 L702.2 324.2 L713.1 318.4 L725.6 310 L740.7 305.1 L774.3 300.2 L799.3 291 L820.2 276 L833.6 265.1 L845 250.1 L878.4 239.7 L944 227.7 L960.9 202.7 L984.3 197.7 L1019.4 177.7 L1085.4 155.1 L1122.2 132.6 L1236.7 75.8 L1253.5 70.2 L1256.3 96.9 L1295.6 52.6 L1308.3 18.2" fill="none" stroke="#ff6666" stroke-width="3.2" stroke-linejoin="round"/>
<path d="M326.8 506.2 L358.5 492.8 L376.9 485.6 L400.3 473.6 L446.2 456 L485.5 443.5 L516 428 L561.8 413.6 L573.5 398.6 L598.6 386.1 L623.7 376.9 L641.2 364.3 L672.1 350 L702.2 333.4 L710.6 328.4 L740.6 325.9 L774.3 311.1 L800.2 299.4 L821.9 286.8 L833.6 281 L846.1 280.2 L878.4 261.8 L947.3 240.2 L960.9 225.3 L976.8 215 L984.3 210.3 L1019.4 194.4 L1085.4 165 L1122.2 156.8 L1236.7 100.4 L1253.5 84.2 L1295.6 68.8 L1308.3 40.7" fill="none" stroke="#00ccff" stroke-width="3.2" stroke-linejoin="round"/>
<circle cx="326.8" cy="489.5" r="10" fill="#ff6666" stroke="#fff" stroke-width="1.4"/>
<circle cx="358.5" cy="480.3" r="10" fill="#ff6666" stroke="#fff" stroke-width="1.4"/>
<circle cx="377.2" cy="471.6" r="10" fill="#ff6666" stroke="#fff" stroke-width="1.4"/>
<circle cx="401.1" cy="461.9" r="10" fill="#ff6666" stroke="#fff" stroke-width="1.4"/>
<circle cx="445.9" cy="444.3" r="10" fill="#ff6666" stroke="#fff" stroke-width="1.4"/>
<circle cx="487.2" cy="424.8" r="10" fill="#ff6666" stroke="#fff" stroke-width="1.4"/>
<circle cx="515.5" cy="411.5" r="10" fill="#ff6666" stroke="#fff" stroke-width="1.4"/>
<circle cx="558.8" cy="396.6" r="10" fill="#ff6666" stroke="#fff" stroke-width="1.4"/>
<circle cx="582.7" cy="381" r="10" fill="#ff6666" stroke="#fff" stroke-width="1.4"/>
<circle cx="598.6" cy="373.5" r="10" fill="#ff6666" stroke="#fff" stroke-width="1.4"/>
<circle cx="623.7" cy="359.3" r="10" fill="#ff6666" stroke="#fff" stroke-width="1.4"/>
<circle cx="640.4" cy="354.3" r="10" fill="#ff6666" stroke="#fff" stroke-width="1.4"/>
<circle cx="702.2" cy="324.2" r="10" fill="#ff6666" stroke="#fff" stroke-width="1.4"/>
<circle cx="713.1" cy="318.4" r="10" fill="#ff6666" stroke="#fff" stroke-width="1.4"/>
<circle cx="725.6" cy="310" r="10" fill="#ff6666" stroke="#fff" stroke-width="1.4"/>
<circle cx="740.7" cy="305.1" r="10" fill="#ff6666" stroke="#fff" stroke-width="1.4"/>
<circle cx="774.3" cy="300.2" r="10" fill="#ff6666" stroke="#fff" stroke-width="1.4"/>
<circle cx="799.3" cy="291" r="10" fill="#ff6666" stroke="#fff" stroke-width="1.4"/>
<circle cx="820.2" cy="276" r="10" fill="#ff6666" stroke="#fff" stroke-width="1.4"/>
<circle cx="833.6" cy="265.1" r="10" fill="#ff6666" stroke="#fff" stroke-width="1.4"/>
<circle cx="845" cy="250.1" r="10" fill="#ff6666" stroke="#fff" stroke-width="1.4"/>
<circle cx="878.4" cy="239.7" r="10" fill="#ff6666" stroke="#fff" stroke-width="1.4"/>
<circle cx="944" cy="227.7" r="10" fill="#ff6666" stroke="#fff" stroke-width="1.4"/>
<circle cx="960.9" cy="202.7" r="10" fill="#ff6666" stroke="#fff" stroke-width="1.4"/>
<circle cx="984.3" cy="197.7" r="10" fill="#ff6666" stroke="#fff" stroke-width="1.4"/>
<circle cx="1019.4" cy="177.7" r="10" fill="#ff6666" stroke="#fff" stroke-width="1.4"/>
<circle cx="1085.4" cy="155.1" r="10" fill="#ff6666" stroke="#fff" stroke-width="1.4"/>
<circle cx="1122.2" cy="132.6" r="10" fill="#ff6666" stroke="#fff" stroke-width="1.4"/>
<circle cx="1236.7" cy="75.8" r="10" fill="#ff6666" stroke="#fff" stroke-width="1.4"/>
<circle cx="1253.5" cy="70.2" r="10" fill="#ff6666" stroke="#fff" stroke-width="1.4"/>
<circle cx="1256.3" cy="96.9" r="10" fill="#ff6666" stroke="#fff" stroke-width="1.4"/>
<circle cx="1295.6" cy="52.6" r="10" fill="#ff6666" stroke="#fff" stroke-width="1.4"/>
<circle cx="1308.3" cy="18.2" r="10" fill="#ff6666" stroke="#fff" stroke-width="1.4"/>
<circle cx="326.8" cy="506.2" r="10" fill="#00ccff" stroke="#fff" stroke-width="1.4"/>
<circle cx="358.5" cy="492.8" r="10" fill="#00ccff" stroke="#fff" stroke-width="1.4"/>
<circle cx="376.9" cy="485.6" r="10" fill="#00ccff" stroke="#fff" stroke-width="1.4"/>
<circle cx="400.3" cy="473.6" r="10" fill="#00ccff" stroke="#fff" stroke-width="1.4"/>
<circle cx="446.2" cy="456" r="10" fill="#00ccff" stroke="#fff" stroke-width="1.4"/>
<circle cx="485.5" cy="443.5" r="10" fill="#00ccff" stroke="#fff" stroke-width="1.4"/>
<circle cx="516" cy="428" r="10" fill="#00ccff" stroke="#fff" stroke-width="1.4"/>
<circle cx="561.8" cy="413.6" r="10" fill="#00ccff" stroke="#fff" stroke-width="1.4"/>
<circle cx="573.5" cy="398.6" r="10" fill="#00ccff" stroke="#fff" stroke-width="1.4"/>
<circle cx="598.6" cy="386.1" r="10" fill="#00ccff" stroke="#fff" stroke-width="1.4"/>
<circle cx="623.7" cy="376.9" r="10" fill="#00ccff" stroke="#fff" stroke-width="1.4"/>
<circle cx="641.2" cy="364.3" r="10" fill="#00ccff" stroke="#fff" stroke-width="1.4"/>
<circle cx="672.1" cy="344.3" r="10" fill="#00ccff" stroke="#fff" stroke-width="1.4"/>
<circle cx="673" cy="350" r="10" fill="#00ccff" stroke="#fff" stroke-width="1.4"/>
<circle cx="672.1" cy="361" r="10" fill="#00ccff" stroke="#fff" stroke-width="1.4"/>
<circle cx="702.2" cy="333.4" r="10" fill="#00ccff" stroke="#fff" stroke-width="1.4"/>
<circle cx="710.6" cy="328.4" r="10" fill="#00ccff" stroke="#fff" stroke-width="1.4"/>
<circle cx="740.6" cy="325.9" r="10" fill="#00ccff" stroke="#fff" stroke-width="1.4"/>
<circle cx="774.3" cy="311.1" r="10" fill="#00ccff" stroke="#fff" stroke-width="1.4"/>
<circle cx="800.2" cy="299.4" r="10" fill="#00ccff" stroke="#fff" stroke-width="1.4"/>
<circle cx="821.9" cy="286.8" r="10" fill="#00ccff" stroke="#fff" stroke-width="1.4"/>
<circle cx="833.6" cy="281" r="10" fill="#00ccff" stroke="#fff" stroke-width="1.4"/>
<circle cx="846.1" cy="280.2" r="10" fill="#00ccff" stroke="#fff" stroke-width="1.4"/>
<circle cx="878.4" cy="261.8" r="10" fill="#00ccff" stroke="#fff" stroke-width="1.4"/>
<circle cx="947.3" cy="240.2" r="10" fill="#00ccff" stroke="#fff" stroke-width="1.4"/>
<circle cx="960.9" cy="225.3" r="10" fill="#00ccff" stroke="#fff" stroke-width="1.4"/>
<circle cx="976.8" cy="225.3" r="10" fill="#00ccff" stroke="#fff" stroke-width="1.4"/>
<circle cx="976.8" cy="207" r="10" fill="#00ccff" stroke="#fff" stroke-width="1.4"/>
<circle cx="984.3" cy="210.3" r="10" fill="#00ccff" stroke="#fff" stroke-width="1.4"/>
<circle cx="1019.4" cy="194.4" r="10" fill="#00ccff" stroke="#fff" stroke-width="1.4"/>
<circle cx="1085.4" cy="170.2" r="10" fill="#00ccff" stroke="#fff" stroke-width="1.4"/>
<circle cx="1085.4" cy="161.8" r="10" fill="#00ccff" stroke="#fff" stroke-width="1.4"/>
<circle cx="1122.2" cy="156.8" r="10" fill="#00ccff" stroke="#fff" stroke-width="1.4"/>
<circle cx="1236.7" cy="100.4" r="10" fill="#00ccff" stroke="#fff" stroke-width="1.4"/>
<circle cx="1253.5" cy="84.2" r="10" fill="#00ccff" stroke="#fff" stroke-width="1.4"/>
<circle cx="1256.3" cy="108.8" r="10" fill="#00ccff" stroke="#fff" stroke-width="1.4"/>
<circle cx="1295.6" cy="68.8" r="10" fill="#00ccff" stroke="#fff" stroke-width="1.4"/>
<circle cx="1304" cy="37.2" r="10" fill="#00ccff" stroke="#fff" stroke-width="1.4"/>
<circle cx="1308.3" cy="40.7" r="10" fill="#00ccff" stroke="#fff" stroke-width="1.4"/>
<path d="M316.7 506.4 L326 521.4 L307.4 521.4 Z" fill="none" stroke="#000066" stroke-width="3.4" stroke-linejoin="miter"/>
<path d="M379.7 476.7 L389 491.7 L370.4 491.7 Z" fill="none" stroke="#000066" stroke-width="3.4" stroke-linejoin="miter"/>
<path d="M399 468.8 L408.3 483.8 L389.7 483.8 Z" fill="none" stroke="#000066" stroke-width="3.4" stroke-linejoin="miter"/>
<path d="M425.4 459.5 L434.7 474.5 L416.1 474.5 Z" fill="none" stroke="#000066" stroke-width="3.4" stroke-linejoin="miter"/>
<path d="M442.9 450.1 L452.2 465.1 L433.6 465.1 Z" fill="none" stroke="#000066" stroke-width="3.4" stroke-linejoin="miter"/>
<path d="M484.7 434.3 L494 449.3 L475.4 449.3 Z" fill="none" stroke="#000066" stroke-width="3.4" stroke-linejoin="miter"/>
<path d="M518.3 421.7 L527.6 436.7 L509 436.7 Z" fill="none" stroke="#000066" stroke-width="3.4" stroke-linejoin="miter"/>
<path d="M576 393.4 L585.3 408.4 L566.7 408.4 Z" fill="none" stroke="#000066" stroke-width="3.4" stroke-linejoin="miter"/>
<path d="M587.7 388.1 L597 403.1 L578.4 403.1 Z" fill="none" stroke="#000066" stroke-width="3.4" stroke-linejoin="miter"/>
<path d="M627 365.2 L636.3 380.2 L617.7 380.2 Z" fill="none" stroke="#000066" stroke-width="3.4" stroke-linejoin="miter"/>
<path d="M694.7 334.2 L704 349.2 L685.4 349.2 Z" fill="none" stroke="#000066" stroke-width="3.4" stroke-linejoin="miter"/>
<path d="M710.6 327.1 L719.9 342.1 L701.3 342.1 Z" fill="none" stroke="#000066" stroke-width="3.4" stroke-linejoin="miter"/>
<path d="M728.9 318.4 L738.2 333.4 L719.6 333.4 Z" fill="none" stroke="#000066" stroke-width="3.4" stroke-linejoin="miter"/>
<path d="M774.3 302.7 L783.6 317.7 L765 317.7 Z" fill="none" stroke="#000066" stroke-width="3.4" stroke-linejoin="miter"/>
<path d="M806.8 291.8 L816.1 306.8 L797.5 306.8 Z" fill="none" stroke="#000066" stroke-width="3.4" stroke-linejoin="miter"/>
<path d="M823.6 281.8 L832.9 296.8 L814.3 296.8 Z" fill="none" stroke="#000066" stroke-width="3.4" stroke-linejoin="miter"/>
<path d="M829.4 278.1 L838.7 293.1 L820.1 293.1 Z" fill="none" stroke="#000066" stroke-width="3.4" stroke-linejoin="miter"/>
<path d="M854.5 269.3 L863.8 284.3 L845.2 284.3 Z" fill="none" stroke="#000066" stroke-width="3.4" stroke-linejoin="miter"/>
<path d="M960.9 222 L970.2 237 L951.6 237 Z" fill="none" stroke="#000066" stroke-width="3.4" stroke-linejoin="miter"/>
<path d="M983.4 206.1 L992.7 221.1 L974.1 221.1 Z" fill="none" stroke="#000066" stroke-width="3.4" stroke-linejoin="miter"/>
<path d="M983.8 218.7 L993.1 233.7 L974.5 233.7 Z" fill="none" stroke="#000066" stroke-width="3.4" stroke-linejoin="miter"/>
<path d="M1122.2 146.3 L1131.5 161.3 L1112.9 161.3 Z" fill="none" stroke="#000066" stroke-width="3.4" stroke-linejoin="miter"/>
<path d="M1257 72.2 L1266.3 87.2 L1247.7 87.2 Z" fill="none" stroke="#000066" stroke-width="3.4" stroke-linejoin="miter"/>
<path d="M1308.3 37.1 L1317.6 52.1 L1299 52.1 Z" fill="none" stroke="#000066" stroke-width="3.4" stroke-linejoin="miter"/>
<rect x="338" y="13.4" width="386" height="108.3" fill="#fff"/>
<rect x="338" y="121.7" width="568" height="44.7" fill="#fff"/>
<rect x="338" y="166.4" width="285" height="27.5" fill="#fff"/>
<text x="342.8" y="36.1" font-size="24.3" font-weight="bold" fill="#ff6666" font-family="Liberation Sans, sans-serif" >Mixed benthics (Bern-MICADAS)</text>
<text x="342.8" y="62.5" font-size="21.3" font-weight="bold" fill="#ff6666" font-family="Liberation Sans, sans-serif" >0.56±0.20 mg CaCO<tspan font-size="17" dy="5.5">3</tspan><tspan dy="-5.5"> (</tspan><tspan font-style="italic">n</tspan>=43)</text>
<text x="342.8" y="95.9" font-size="24.3" font-weight="bold" fill="#00ccff" font-family="Liberation Sans, sans-serif" ><tspan font-style="italic">N. pachyderma</tspan> (Bern-MICADAS)</text>
<text x="342.8" y="121" font-size="21.3" font-weight="bold" fill="#00ccff" font-family="Liberation Sans, sans-serif" >0.63±0.21 mg CaCO<tspan font-size="17" dy="5.5">3</tspan><tspan dy="-5.5"> (</tspan><tspan font-style="italic">n</tspan>=64)</text>
<text x="342.8" y="154.4" font-size="24.3" font-weight="bold" fill="#000066" font-family="Liberation Sans, sans-serif" >Mono-specific planktics (Paris-Saclay ARTEMIS)</text>
<text x="342.8" y="180.5" font-size="21.3" font-weight="bold" fill="#000066" font-family="Liberation Sans, sans-serif" >5.70±4.20 mg CaCO<tspan font-size="17" dy="5.5">3</tspan><tspan dy="-5.5"> (</tspan><tspan font-style="italic">n</tspan>=31)</text>
<text x="0" y="0" font-size="24.2" fill="#666" font-style="italic" font-family="Liberation Sans, sans-serif" transform="translate(1143.5 199.6) rotate(-21.5)">ShCal13</text>
<path d="M291.5 568.5 L295.5 585.3 L299.7 597.8 L304.4 608.8 L308.5 612.8 L312.6 607 L316.8 598.7 L320.5 609.9 L324.6 604.4 L328.9 594.8 L333.4 599 L336.9 594.1 L340.7 596.5 L344.2 593.4 L348.8 603.9 L353.2 606.6 L356.6 610.6 L361.4 611.1 L366.1 604.6 L370.5 606 L374.7 612.8 L378.3 607.3 L381.8 612.5 L385.9 604.1 L389.4 593.1 L393 579 L396.8 587.3 L400.2 588.2 L404.3 602.7 L408.3 616.4 L412.9 618.9 L417 616 L421.3 598.1 L425.4 593.5 L429.7 586.3 L433.8 590.1 L437.6 588.7 L442.3 579.9 L447.1 576.4 L451.7 574.7 L456.1 589.1 L459.9 591.3 L463.7 600.7 L467.5 599.4 L471 601.4 L475.4 595.9 L479.4 591.1 L484 596 L487.9 606.2 L492.7 618.8 L497.3 617.7 L500.7 616.3 L504.4 607.5 L509 598.8 L513.1 592.3 L517.9 590.8 L521.8 606.8 L525.3 615.5 L529.6 625 L534.1 627.8 L537.9 628.1 L541.4 619.1 L545.3 625.7 L550 625 L554.5 625.2 L558 625.6 L561.8 634.7 L565.3 629.5 L568.8 608.6 L573.3 605.9 L577 599.8 L581.1 602.4 L585.2 615.6 L588.8 631 L593.3 638.2 L596.9 629.3 L601.2 632.8 L604.7 619.4 L608.7 619.6 L612.4 609.9 L616.2 613 L620.9 607.8 L625.5 595.1 L629.3 596.7 L633.9 583.5 L637.6 575.3 L641.6 576.9 L646.2 564 L650.5 559.8 L654 560.9 L658.8 563.9 L662.5 559.1 L666.3 557.7 L670.7 563.1 L674.6 546.9 L678.4 546.1 L681.9 543.6 L685.4 541.8 L689.7 548.1 L693.4 554.1 L697.6 562.8 L701.6 566.3 L705.6 564.9 L710.3 562.7 L714.4 564.7 L718.6 559.6 L723.2 559 L726.9 567 L730.5 572.9 L735.2 597.4 L739.7 625.9 L743.5 639.2 L747.1 659.6 L751.6 674.2 L756.3 701.2 L760 723.5 L764.7 733.4 L769.3 749.1 L773.6 752.2 L777.6 741.5 L781.1 741.2 L784.6 734.5 L789.3 735.8 L793 734.3 L797.4 741 L801.2 742.9 L805.7 734.7 L810 731.5 L813.8 734.9 L817.4 733.1 L821.8 713.1 L825.3 700.5 L829.1 686.8 L833.2 673 L837.8 673.2 L842.1 683.8 L845.9 703.7 L850.6 724.9 L854.3 727.6 L857.7 730.8 L861.5 737.7 L865.5 733.7 L869 747.4 L872.6 758.9 L876.5 763.4 L880.7 770 L884.3 781.9 L888.2 779.7 L892.9 785.5 L897.6 797.3 L902 809.4 L906.3 809.1 L910.5 818.3 L914.1 826 L917.6 841.7 L921 848.9 L925.7 872.3 L930.1 887.2 L934.8 899.4 L938.3 908.9 L942.5 918.5 L946.6 920.5 L951 930.5 L954.9 940.3 L959.7 953.4 L963.2 953.5 L967.4 964.4 L971.8 963.6 L976.4 957.2 L980.9 962.4 L985.3 969.3 L989.8 966.4 L994.5 969.4 L998.3 964.7 L1002.7 961.8 L1007.4 962.8 L1012 967.4 L1016 959.3 L1020.5 960.9 L1025.1 967.2 L1029.3 971.8 L1033.6 974 L1037.5 979.3 L1041.7 967.7 L1046 962.8 L1049.5 973 L1053.8 972.1 L1058.6 972.7 L1063.2 964.3 L1067.6 970 L1071.6 970.7 L1076 964.5 L1080.2 972 L1084.2 972.1 L1088.8 966.6 L1092.3 963.3 L1096.8 960.7 L1100.2 962 L1104.4 962.3 L1108.5 963.5 L1112.2 971.9 L1116.6 967 L1120.7 971.6 L1125 961.6 L1129.7 968.3 L1133.4 961.4 L1136.8 962.6 L1140.7 961.5 L1145 958 L1148.7 951.4 L1152.3 945.3 L1157 955.5 L1161.3 949.5 L1165.3 952.1 L1170 959.5 L1173.8 961.8 L1178.2 967.8 L1181.9 990.1 L1185.9 992 L1190.4 991.5 L1195.1 989.7 L1199.7 995.3 L1203.6 992.9 L1207.9 1001.4 L1211.7 999.9 L1215.3 999 L1219.4 1002.3 L1224 1004.2 L1228.5 995.8 L1232.9 1005.7 L1237.7 1012 L1241.5 1012.6 L1245.1 1013.3 L1249.1 1002.5 L1252.9 1008.6 L1256.6 1009.6 L1260.6 997.9 L1264.9 999.7 L1269 999.9 L1272.8 1002 L1277.4 998.9 L1282.1 1000.5 L1286.2 1004.9 L1289.7 995.2 L1293.1 996.1 L1297.8 998.4 L1301.2 998.7 L1305.6 994.1 L1309.8 996.5 L1313.6 984.1 L1318.1 961.6 L1321.6 956.9 L1325.2 947.5 L1325.2 984.7 L1321.6 992.7 L1318.1 1001.5 L1313.6 1010.8 L1309.8 1019 L1305.6 1027.5 L1301.2 1037.9 L1297.8 1038.2 L1293.1 1028.8 L1289.7 1028.4 L1286.2 1030.8 L1282.1 1028.1 L1277.4 1036 L1272.8 1031.9 L1269 1037.9 L1264.9 1034.9 L1260.6 1034.1 L1256.6 1035.2 L1252.9 1037.3 L1249.1 1043.6 L1245.1 1038.4 L1241.5 1041 L1237.7 1033.5 L1232.9 1038.7 L1228.5 1030.3 L1224 1029.6 L1219.4 1032.2 L1215.3 1037.5 L1211.7 1034.2 L1207.9 1033 L1203.6 1027.8 L1199.7 1017.8 L1195.1 1020.8 L1190.4 1023.1 L1185.9 1022.1 L1181.9 1018.6 L1178.2 1021.5 L1173.8 1014.6 L1170 1012.2 L1165.3 1004.5 L1161.3 1001.1 L1157 1009.8 L1152.3 998.6 L1148.7 1004.4 L1145 1009.9 L1140.7 1004.9 L1136.8 1011.1 L1133.4 1012.9 L1129.7 1011.6 L1125 1019.9 L1120.7 1022 L1116.6 1024.2 L1112.2 1021.1 L1108.5 1020.6 L1104.4 1012.9 L1100.2 1016.4 L1096.8 1017.3 L1092.3 1020.6 L1088.8 1019.7 L1084.2 1017.2 L1080.2 1024.8 L1076 1021.7 L1071.6 1019.7 L1067.6 1014.2 L1063.2 1020.1 L1058.6 1022.1 L1053.8 1018 L1049.5 1025 L1046 1015.9 L1041.7 1028.7 L1037.5 1030.9 L1033.6 1022.4 L1029.3 1026.7 L1025.1 1017.5 L1020.5 1010.1 L1016 1014.5 L1012 1014.6 L1007.4 1022.8 L1002.7 1019.2 L998.3 1015 L994.5 1017.6 L989.8 1016 L985.3 1015.7 L980.9 1011.1 L976.4 1015.1 L971.8 1012.5 L967.4 1011 L963.2 1006.8 L959.7 1009.1 L954.9 992 L951 980.8 L946.6 975.8 L942.5 964.9 L938.3 956.8 L934.8 957.7 L930.1 940.3 L925.7 940.9 L921 921.9 L917.6 908.2 L914.1 892.2 L910.5 885.5 L906.3 878.2 L902 871.9 L897.6 870.3 L892.9 862.8 L888.2 852.9 L884.3 848.9 L880.7 838.1 L876.5 830.4 L872.6 823.7 L869 820.1 L865.5 810.1 L861.5 801.3 L857.7 804.5 L854.3 800.7 L850.6 791.5 L845.9 774 L842.1 757.9 L837.8 746.8 L833.2 742.8 L829.1 754.9 L825.3 768.7 L821.8 789.9 L817.4 791.3 L813.8 804.1 L810 802.7 L805.7 806.8 L801.2 804.1 L797.4 805.1 L793 803.8 L789.3 795.9 L784.6 799.5 L781.1 804.9 L777.6 815.8 L773.6 822.9 L769.3 814.6 L764.7 809.6 L760 788 L756.3 775.7 L751.6 750.4 L747.1 723.8 L743.5 704.8 L739.7 689.2 L735.2 664.2 L730.5 645.2 L726.9 632.6 L723.2 634.4 L718.6 630.8 L714.4 631.6 L710.3 638.3 L705.6 639.1 L701.6 632.3 L697.6 628.8 L693.4 630.6 L689.7 622.3 L685.4 615.1 L681.9 611.1 L678.4 614.6 L674.6 624.2 L670.7 633 L666.3 631.1 L662.5 638.2 L658.8 633.6 L654 639.7 L650.5 635.5 L646.2 636.7 L641.6 646.7 L637.6 650.5 L633.9 656.5 L629.3 661.1 L625.5 665.7 L620.9 677.1 L616.2 681.9 L612.4 680.9 L608.7 685.1 L604.7 693.8 L601.2 707.3 L596.9 707.5 L593.3 703.6 L588.8 694.5 L585.2 695.3 L581.1 681.6 L577 668.2 L573.3 676.8 L568.8 685.7 L565.3 698.8 L561.8 696.9 L558 706.4 L554.5 700.8 L550 701.6 L545.3 697.7 L541.4 696.6 L537.9 701.6 L534.1 694.5 L529.6 696.2 L525.3 676.3 L521.8 670.6 L517.9 671.4 L513.1 657.4 L509 660 L504.4 669.8 L500.7 686.5 L497.3 683.2 L492.7 680 L487.9 678.2 L484 662.2 L479.4 665.6 L475.4 672.1 L471 675.3 L467.5 677.3 L463.7 675.8 L459.9 666 L456.1 659.2 L451.7 645.6 L447.1 652.3 L442.3 653.9 L437.6 659.7 L433.8 661.7 L429.7 657.5 L425.4 667.1 L421.3 675.9 L417 682 L412.9 687.4 L408.3 678.7 L404.3 674.4 L400.2 661 L396.8 651.9 L393 656.2 L389.4 669.8 L385.9 674.1 L381.8 683.8 L378.3 684.5 L374.7 681.2 L370.5 674.3 L366.1 677.8 L361.4 682.3 L356.6 679.5 L353.2 686.2 L348.8 675.5 L344.2 664.2 L340.7 660.6 L336.9 661.4 L333.4 663.6 L328.9 672.6 L324.6 680 L320.5 673.3 L316.8 674.5 L312.6 680.5 L308.5 681.6 L304.4 680.5 L299.7 673.1 L295.5 655 L291.5 641.4 Z" fill="#b3b3b3"/>
<path d="M291.5 689.4 L295.5 608 L299.7 694.6 L304.4 625.5 L308.5 602.4 L312.6 582.1 L316.8 656.2 L320.5 594.4 L324.6 711.9 L328.9 621.9 L333.4 667.5 L336.9 574.4 L340.7 630.2 L344.2 585.7 L348.8 725.5 L353.2 593.6 L356.6 585.9 L361.4 624.9 L366.1 722.5 L370.5 601.2 L374.7 709 L378.3 634.1 L381.8 671.6 L385.9 581.7 L389.4 723.9 L393 548.1 L396.8 628.7 L400.2 587.1 L404.3 646.7 L408.3 632.9 L412.9 658.2 L417 596.4 L421.3 708 L425.4 595 L429.7 628.7 L433.8 597.4 L437.6 634.1 L442.3 537.7 L447.1 709.1 L451.7 609.1 L456.1 655.4 L459.9 621.9 L463.7 719.1 L467.5 625.7 L471 574.9 L475.4 575.5 L479.4 697.3 L484 538.6 L487.9 657.7 L492.7 598 L497.3 743.9 L500.7 627 L504.4 657.1 L509 575.2 L513.1 676.3 L517.9 652.9 L521.8 669.4 L525.3 629.8 L529.6 582.1 L534.1 630.3 L537.9 673.3 L541.4 684.7 L545.3 710.2 L550 604.6 L554.5 673.4 L558 600.5 L561.8 681.6 L565.3 645.4 L568.8 682.9 L573.3 636.1 L577 676.3 L581.1 626.1 L585.2 670.1 L588.8 638.6 L593.3 754.2 L596.9 654.9 L601.2 675.3 L604.7 732.8 L608.7 637.6 L612.4 612.9 L616.2 736.4 L620.9 637.1 L625.5 636 L629.3 592.9 L633.9 690.2 L637.6 579.6 L641.6 615 L646.2 598 L650.5 691.8 L654 536.9 L658.8 601.3 L662.5 547.3 L666.3 618 L670.7 585.8 L674.6 642 L678.4 571.2 L681.9 598.9 L685.4 660 L689.7 597.6 L693.4 581 L697.6 600.7 L701.6 562.2 L705.6 654.1 L710.3 571.9 L714.4 611 L718.6 572.4 L723.2 619.8 L726.9 584.1 L730.5 704.4 L735.2 625.4 L739.7 691.2 L743.5 628.6 L747.1 779.1 L751.6 711 L756.3 793.7 L760 720.7 L764.7 700.7 L769.3 732.9 L773.6 792.2 L777.6 711.4 L781.1 807.5 L784.6 752.8 L789.3 803.7 L793 724 L797.4 829.6 L801.2 753.4 L805.7 820.3 L810 749.4 L813.8 806.7 L817.4 711.9 L821.8 806.2 L825.3 726.9 L829.1 730.5 L833.2 701.6 L837.8 734.2 L842.1 702 L845.9 825.4 L850.6 752.5 L854.3 812.3 L857.7 709.3 L861.5 769.2 L865.5 760.9 L869 805.1 L872.6 785.7 L876.5 885.7 L880.7 771.8 L884.3 844.2 L888.2 794.3 L892.9 854.3 L897.6 819.6 L902 871.6 L906.3 845.2 L910.5 855.6 L914.1 821.2 L917.6 957.8 L921 845.5 L925.7 938.1 L930.1 897.6 L934.8 928.9 L938.3 892.9 L942.5 1009.2 L946.6 928.9 L951 994.4 L954.9 940.3 L959.7 1017.4 L963.2 970.3 L967.4 1004.6 L971.8 953.9 L976.4 1037.1 L980.9 1018.7 L985.3 1043 L989.8 975 L994.5 1036.9 L998.3 956.4 L1002.7 999 L1007.4 941.6 L1012 1026.9 L1016 947 L1020.5 1058 L1025.1 984.8 L1029.3 1023.1 L1033.6 991.3 L1037.5 1033.3 L1041.7 973.1 L1046 1013.4 L1049.5 956.4 L1053.8 1016 L1058.6 989.8 L1063.2 997.9 L1067.6 979.6 L1071.6 1031.8 L1076 954.3 L1080.2 998.1 L1084.2 934 L1088.8 1019.8 L1092.3 987.1 L1096.8 1019.9 L1100.2 973.3 L1104.4 1001 L1108.5 985.2 L1112.2 1046.8 L1116.6 990.8 L1120.7 1014.2 L1125 982.5 L1129.7 1007 L1133.4 935.1 L1136.8 1002.9 L1140.7 958.4 L1145 1017.6 L1148.7 1011.4 L1152.3 1045 L1157 951.7 L1161.3 989.2 L1165.3 1007.7 L1170 1003.2 L1173.8 972.1 L1178.2 1016.5 L1181.9 987.2 L1185.9 1036.2 L1190.4 996.8 L1195.1 1019 L1199.7 1002.7 L1203.6 1009.9 L1207.9 1010.2 L1211.7 1055.5 L1215.3 999.3 L1219.4 1038.8 L1224 1007.5 L1228.5 1041.4 L1232.9 1003.8 L1237.7 1029.6 L1241.5 1017.4 L1245.1 1025.8 L1249.1 1011.7 L1252.9 1024.7 L1256.6 1003.3 L1260.6 1029.1 L1264.9 999.9 L1269 1029 L1272.8 979.8 L1277.4 1033.4 L1282.1 986.2 L1286.2 1052.2 L1289.7 988 L1293.1 1025.5 L1297.8 987.5 L1301.2 1037.2 L1305.6 991.7 L1309.8 1012.8 L1313.6 985.2 L1318.1 988.8 L1321.6 971.7 L1325.2 984.4" fill="none" stroke="#b3b3b3" stroke-width="5.6" stroke-linejoin="round" stroke-linecap="round"/>
<path d="M292 606.2 L296.9 627.1 L302.2 653.8 L307.5 647.4 L311.9 651.1 L316.7 640.2 L320.5 650.7 L324.5 622.9 L329.2 648.7 L333.2 624.1 L338.4 630.5 L342.3 604.8 L346.2 651.7 L350 637.7 L355.2 654.8 L359.1 638.8 L364.3 642.2 L369.6 627.6 L374.5 646.9 L379.8 649.4 L385.1 659.5 L389.2 618.6 L393.1 619.5 L396.8 599.1 L401.5 629.3 L406.4 640 L410.5 670.7 L415 650.8 L419.4 652.5 L423.1 613.9 L426.8 628.5 L431.9 613.3 L436.9 639.8 L441.6 617.3 L445.3 620.7 L450.6 605 L455.5 629.6 L460.8 620.1 L465.1 649.3 L470.1 643.4 L475 644.6 L480.2 617.9 L485.5 629.7 L489.7 634.8 L494.9 675.2 L500.2 642.7 L504.4 641.6 L508.3 615 L512.1 633.9 L517.5 625.6 L521.2 651.3 L525.8 637.1 L529.8 665 L534.9 658.5 L539.3 678.6 L544.5 647.8 L549 656.3 L552.8 648.4 L558.1 692.1 L563.2 664.7 L567.5 654.6 L572.7 624.3 L577.1 646.7 L582.2 630.1 L586.6 666.5 L591.5 663.8 L595.7 687.5 L599.5 663.1 L604.9 672.2 L609.6 641.4 L613.8 650 L617.9 630.6 L623.1 645.6 L628.1 615.4 L633 627.5 L637.9 610.9 L642.8 620.8 L647.3 591.3 L652.1 601.4 L657.4 581.9 L662.1 609.7 L666.6 596.9 L671.5 603.2 L676.5 569.3 L681.6 576.9 L686.3 556.7 L691.4 602 L696.5 588.7 L701.4 610.4 L706.7 588.3 L711.2 611.1 L716.3 582 L720.8 596.9 L725.7 584 L729.6 618.8 L734.3 614.9 L738.6 659.6 L743.6 666.9 L748.5 700.5 L752.4 709.6 L757.2 749 L762 752 L765.7 790.1 L769.7 788.1 L773.5 791.8 L777.4 774.2 L781.1 782.7 L785.4 756.9 L790.1 769.8 L795.3 765.2 L799.6 787.6 L803.9 773.2 L809 777.9 L812.7 755.5 L816.5 770.4 L820.7 751.3 L826 751.7 L830.4 699.5 L835.1 690.6 L839 691.9 L843.6 746.8 L848.9 748 L853.2 782.3 L856.8 763.3 L861.4 774.2 L865.2 756.9 L870.4 790.3 L874.8 794.8 L879 822.9 L883.2 798.1 L888.5 821.2 L892.5 807.5 L897 841 L901.2 827.7 L905.7 854.2 L910.2 847.2 L914.9 869.8 L919 861 L924.1 899.9 L928.7 908.1 L933.9 942.2 L938 929 L941.9 943.7 L946 934.3 L950.4 964.7 L955.1 965.1 L958.9 995.7 L963.1 978.8 L967.3 985.2 L971.8 979.2 L976.1 998.9 L980.8 984.7 L984.8 998 L990.1 984.2 L994.6 993.6 L999.6 982.5 L1004.3 1003.2 L1009 987.3 L1014.3 993.3 L1018.6 975.1 L1022.5 992.1 L1027.6 993.7 L1032.7 1016.8 L1037.1 997.7 L1042.1 1003.7 L1046 983.3 L1050.5 1000.7 L1054.7 992.3 L1059.4 1002.8 L1063.1 985.2 L1068.2 996.1 L1073 988.6 L1077.9 1007.3 L1083.3 988.8 L1087 1001.6 L1091 979.5 L1096.3 993.5 L1100.1 984.6 L1105.4 999.6 L1110.1 988.1 L1114 1002.4 L1117.6 994.2 L1121.9 1000.1 L1125.6 983.6 L1130.6 996.9 L1134.4 981.2 L1138.6 989.3 L1143.1 969.8 L1147.3 984.3 L1152.2 971.3 L1156.9 980.9 L1162.2 975.7 L1166.9 989.8 L1171.5 977.3 L1176.4 992.3 L1180.3 993.8 L1184.5 1017.1 L1188.5 1009.8 L1193.2 1009.6 L1198 1000.4 L1201.9 1010.5 L1205.9 1004.7 L1210.4 1022.4 L1215.4 1020.1 L1220.3 1020.5 L1224.2 1005.2 L1229 1017.7 L1232.8 1008.7 L1237.6 1030.6 L1241.4 1021.3 L1245.7 1032.7 L1249.9 1017.4 L1254.1 1025.1 L1258 1011.9 L1262.7 1028.2 L1267.1 1011.2 L1271.6 1021.6 L1276.3 1011.4 L1280.6 1019.2 L1284.2 1011 L1287.9 1024.2 L1292.4 1012.9 L1296 1023.8 L1301.2 1011.7 L1305.5 1023.1 L1309.3 1013 L1313.2 1005.2 L1317.5 973.8 L1321.4 969.2 L1325.5 960.1" fill="none" stroke="#4d4d4d" stroke-width="4.4" stroke-linejoin="round" stroke-linecap="round"/>
<path d="M401.3 692.5 C402.6 692.9 405.3 696.6 409.3 694.6 C413.3 692.6 420.7 686.2 425.4 680.5 C430.1 674.8 433.7 667.4 437.4 660.5 C441.1 653.6 444.4 641.1 447.4 639.4 C450.4 637.7 452.4 646.7 455.4 650.4 C458.4 654.1 461.8 660.3 465.5 661.5 C469.2 662.7 474.2 658.3 477.5 657.5 C480.8 656.7 481.8 654.7 485.5 656.5 C489.2 658.3 495.2 667.3 499.6 668.5 C504 669.7 507.9 661.8 511.6 663.5 C515.3 665.2 516.6 674 521.6 678.5 C526.6 683 536.7 689.2 541.7 690.5 C546.7 691.8 547.7 690 551.7 686.5 C555.7 683 561.2 671 565.7 669.5 C570.2 668 576.1 676.1 578.7 677.2 C581.3 678.3 578.5 672.5 581.4 675.9 C584.3 679.2 590.8 697.8 596.1 697.3 C601.5 696.8 608.8 681.2 613.5 673.2 C618.2 665.2 619.8 656.7 624.2 649.1 C628.7 641.5 636.2 632.2 640.2 627.8 C644.2 623.3 643.7 626.4 648.2 622.4 C652.7 618.4 661.6 607.9 667 603.7 C672.4 599.5 674.1 598.8 680.3 597 C686.5 595.2 698.6 596.2 704.4 593 C710.2 589.8 711.9 582.7 715 578 C718.1 573.3 720.6 561.9 723.1 564.9 C725.6 567.9 727.8 589.9 729.8 595.7 C731.8 601.5 732.2 592.1 735.1 599.7 C738 607.3 743 624.4 747.2 641.1 C751.4 657.8 756 682 760.5 700 C765 718 769 749.6 773.9 749.4 C778.8 749.2 785.1 699.7 790 698.6 C794.9 697.5 798.4 737.4 803.3 742.7 C808.2 748.1 815.4 735.6 819.4 730.7 C823.4 725.8 824.3 724 827.4 713.3 C830.5 702.6 835.4 672.7 838.1 666.5 C840.8 660.3 840.3 663.2 843.4 675.9 C846.5 688.6 852.3 725.8 856.8 742.7 C861.3 759.6 864.3 760.6 870.2 777.5 C876.1 794.4 884.2 822.4 892.1 844.2 C900 866 910.8 891.2 917.7 908.3 C924.7 925.4 929 934.5 933.8 946.8 C938.6 959.1 942.9 975.4 946.6 982.1 C950.3 988.8 953 986.4 956.2 986.9 C959.4 987.4 962.1 984.2 965.9 985.3 C969.6 986.4 973.9 993.8 978.7 993.3 C983.5 992.8 987.8 985.6 994.7 982.1 C1001.7 978.6 1011.8 973 1020.4 972.5 C1029 972 1036.5 979.4 1046.1 978.9 C1055.7 978.4 1067.5 969.3 1078.2 969.3 C1088.9 969.3 1100.1 976 1110.2 978.9 C1120.3 981.8 1130 984.2 1139.1 986.9 C1148.2 989.6 1157.8 993.8 1164.8 995 C1171.8 996.2 1172.8 996.2 1180.8 994.3 C1188.8 992.4 1203.3 987.3 1212.9 983.7 C1222.5 980.1 1231.6 976 1238.6 972.5 C1245.5 969 1249.2 965.9 1254.6 962.9 C1259.9 959.9 1265.3 958.8 1270.7 954.8 C1276.1 950.8 1282.4 941.2 1286.7 938.8 C1291 936.4 1292.5 940.9 1296.3 940.4 C1300 939.9 1305.2 942.3 1309.2 935.6 C1313.2 928.9 1316.7 903.8 1320.4 900.3 C1324.1 896.8 1329.7 912.3 1331.6 914.7" fill="none" stroke="#ff3399" stroke-width="3.6" stroke-linejoin="round" stroke-linecap="round"/>
<path d="M315.3 1093.6 C315.3 1093.6 315.8 1076.5 318 1072 C319.2 1069.4 321.2 1067.1 323 1067 C324.9 1066.9 327.2 1069.8 329 1072 C331.3 1074.8 332.1 1080.9 335 1083 C337.6 1084.9 341.9 1086.2 345 1085 C349.1 1083.4 351.9 1072.6 356 1070 C359.1 1068 362.7 1068 366 1068 C369.3 1068 372.5 1069.9 376 1070 C379.8 1070.1 384.4 1069.1 388 1068 C391.3 1067 393.9 1065.8 397 1064 C400.6 1061.9 404.2 1058.3 408 1056 C411.8 1053.7 415.7 1051.3 420 1050 C424.6 1048.6 430.4 1048.9 435 1048 C439 1047.2 442.6 1044.4 446 1045 C449.6 1045.6 452.8 1051.9 456 1052 C458.8 1052.1 461.3 1049.4 464 1047 C467.7 1043.7 471 1034.1 475 1033 C478.1 1032.2 481.5 1035.6 485 1037 C488.8 1038.6 493 1040 497 1042 C501.3 1044.2 505.8 1047.3 510 1050 C514.1 1052.6 517.6 1055.7 522 1058 C526.6 1060.4 532.5 1062.4 537 1064 C540.6 1065.3 543.8 1067.2 547 1067 C550.1 1066.8 553.1 1064.8 556 1063 C559.2 1061 561.8 1057.6 565 1055 C568.4 1052.2 571.9 1047.9 576 1047 C580.2 1046.1 585.8 1048.4 590 1050 C593.7 1051.5 596.4 1054.7 600 1056 C603.7 1057.4 608.1 1058.8 612 1058 C616.4 1057.1 620.9 1053.5 625 1050 C629.7 1046 633.2 1040.3 638 1035 C643.7 1028.8 650.2 1020.9 657 1015 C663.6 1009.3 670.8 1004.4 678 1000 C684.9 995.8 693.2 994.6 699 989 C705.5 982.7 708.8 969.9 714 963 C718.1 957.6 723.2 949.5 726.7 950 C730.1 950.5 732.7 958.7 735 965 C738.3 974 739.6 988.8 742 1000 C744.3 1010.4 746.5 1018.4 749 1030 C752.4 1045.9 756.4 1070.2 760 1087 C762.9 1100.4 764.5 1114.1 768.7 1123 C771.6 1129.1 775.9 1136.9 779.4 1137 C782.6 1137.1 785.7 1126.7 789 1126 C791.6 1125.5 794.7 1127.7 797 1130 C800.1 1133.2 801.3 1140.6 804 1145 C806.4 1148.8 809.2 1152.4 812 1155 C814.3 1157.1 816.9 1160.5 819 1160 C821.7 1159.4 824 1152.6 826 1148 C828.4 1142.5 830 1135.2 832 1129 C833.9 1123.2 835.3 1112.3 837.5 1112 C839.1 1111.8 841.2 1116.9 843 1120 C845.3 1124 846.9 1128.9 850 1134 C854.1 1140.7 861.1 1147.4 866.4 1156.2 C873.2 1167.6 880 1183.4 886 1197.5 C892.1 1211.9 896 1229.3 902.7 1241.9 C908.3 1252.5 916.4 1257.9 921.9 1269.1 C929.3 1284.1 933.5 1309.8 939.6 1325.9 C944.3 1338.3 948 1353 954 1358 C957.6 1361 961.9 1360 966 1361 C970.2 1362 974.7 1363.3 979 1364 C983.2 1364.6 987.3 1367 991.5 1365 C998.8 1361.5 1005.9 1333.9 1013.4 1333.3 C1019.9 1332.8 1026.1 1348.1 1033.2 1353.8 C1039.8 1359.1 1047.4 1366.8 1054.4 1366.7 C1061.4 1366.6 1067.9 1355.3 1075 1353.2 C1081.2 1351.3 1088.1 1355.2 1094.2 1353.2 C1101 1351 1106.8 1343.5 1113.4 1339.4 C1119.8 1335.5 1126.8 1328 1133.3 1329.1 C1141.5 1330.5 1148.4 1349.2 1157.4 1354.8 C1165.3 1359.7 1175 1364.1 1183.4 1362.8 C1192.5 1361.4 1201.3 1349.8 1209.7 1344.5 C1217.1 1339.8 1224 1334.7 1231.2 1332.3 C1237.5 1330.2 1244.4 1329.2 1250 1330 C1254.9 1330.7 1259.2 1336.3 1263.3 1335.5 C1267.9 1334.6 1272 1327.6 1276.1 1322.7 C1280.6 1317.3 1283.9 1308.5 1288.9 1304.1 C1293 1300.5 1298.5 1300.4 1302.7 1297 C1307.5 1293.1 1311.6 1282.3 1315.6 1281 C1317.8 1280.2 1319.7 1281.7 1322 1282.6 C1324.9 1283.7 1331.6 1287.4 1331.6 1287.4" fill="none" stroke="#336666" stroke-width="4" stroke-linejoin="round"/>
<path d="M401.4 1135.7 C401.4 1135.7 421.9 1104.4 429.8 1090.3 C436.4 1078.6 437.4 1060.9 446.3 1057.2 C456 1053.2 474.9 1067.5 487.3 1071.2 C497.4 1074.2 505.9 1073.6 515.1 1078.2 C526.4 1083.8 541 1107.6 548.8 1105.4 C556 1103.4 555.2 1074.3 561.4 1070.6 C565.2 1068.4 571.3 1069.7 574.9 1072.6 C580.2 1076.9 582 1091.6 585 1100 C587.6 1107.2 589.1 1115.3 592 1120 C594 1123.2 596.6 1127.3 598.7 1127 C601.7 1126.5 604.5 1116.3 607 1110 C610 1102.6 612.2 1092.2 615 1085 C617.2 1079.3 619.3 1074.4 622 1070 C624.4 1066.2 626.7 1063 630 1060 C633.8 1056.5 638.2 1053.2 643.9 1050.7 C651.4 1047.4 662.7 1041.8 671.9 1043.7 C682.8 1045.9 696.5 1070 704.2 1067.8 C711.6 1065.6 714 1041.7 717.7 1032.5 C720.1 1026.6 720.9 1020.6 724 1018 C726.4 1016 730.5 1017.6 733 1016 C735.6 1014.3 737.6 1011.3 739 1008 C740.7 1003.8 739.7 992.2 741 992 C742 991.8 743.7 996.2 745 1000 C747.7 1008.1 749.6 1025.9 752 1040 C754.6 1055.7 757.3 1073.8 760 1090 C762.6 1105.4 765.2 1124.1 768 1135 C769.6 1141.4 771.5 1150.1 773 1150 C775 1149.8 776.4 1131.3 778 1120 C780.1 1105.5 781.8 1082.9 784 1070 C785.4 1061.8 786.4 1050.2 788.4 1050 C790.2 1049.8 792.7 1059.4 795 1065 C797.8 1071.8 800.8 1087.8 803.8 1088 C806.1 1088.2 808.8 1080 811 1075 C813.8 1068.6 816.4 1060.7 818.7 1052.4 C821.5 1042.6 823.5 1030.8 826 1020 C828.5 1009.2 829 990.8 833.9 987.8 C836.7 986.1 841.6 987.5 844.5 990.4 C850.2 996 851.6 1015.6 855 1030 C859.1 1047.1 863.2 1067.1 867 1086.6 C871 1107.2 870 1126.8 878.4 1150.5 C890.4 1184.5 932.6 1263.2 942.6 1267.3 C944.5 1268.1 945.7 1267.1 947 1266 C949.1 1264.2 950.1 1259.3 952 1255 C954.6 1248.9 957.8 1233 961.1 1232.9 C964.5 1232.8 968.1 1254.8 972.3 1255.3 C975.7 1255.7 979.1 1243.2 983.5 1242.5 C988.2 1241.7 994.8 1248.7 1000 1252 C1004.9 1255.1 1009.9 1262.7 1014 1261.7 C1019.3 1260.4 1021.7 1237.3 1026.8 1236.1 C1030.6 1235.2 1034.2 1245.9 1039.7 1245.7 C1050.2 1245.4 1069.2 1213.4 1084.6 1207.8 C1096.9 1203.3 1106.5 1206.1 1122.4 1207.8 C1150.2 1210.7 1224.2 1236.2 1236 1232 C1238.8 1231 1238.6 1229 1240 1227 C1241.8 1224.4 1243.9 1221.1 1245.8 1217.8 C1247.9 1214.1 1249.6 1208.5 1252 1205.6 C1253.8 1203.4 1255.7 1201.8 1258 1201 C1260.3 1200.2 1263.4 1200.7 1265.8 1201 C1268 1201.2 1270.2 1203.3 1271.9 1202.4 C1274.7 1200.9 1276 1193 1278 1187 C1280.6 1178.9 1282.7 1158.4 1285.6 1158 C1287.5 1157.7 1290 1164 1291.8 1168.8 C1294.7 1176.7 1295.5 1192.9 1297.9 1202.4 C1299.7 1209.6 1302.5 1214.6 1304 1221 C1305.5 1227.4 1304.8 1240.1 1307.1 1240.8 C1308.6 1241.3 1311.1 1236.9 1313.2 1234.6 C1315.7 1231.9 1318.2 1225.5 1320.8 1225.4 C1323.3 1225.3 1326.4 1231.1 1328.5 1233 C1329.9 1234.3 1332 1236 1332 1236" fill="none" stroke="#003399" stroke-width="4" stroke-linejoin="round"/>
<path d="M313 1172 C313 1172 315.6 1157.9 317 1150 C318.6 1140.8 320.1 1129.5 322 1120 C323.8 1111.3 325.4 1101.3 328 1095 C329.7 1090.7 331.8 1085.4 334 1085 C335.8 1084.7 338.3 1087.4 340 1090 C342.8 1094.2 344 1104.9 346 1110 C347.3 1113.3 348.7 1118.1 350 1118 C352 1117.9 353.9 1105.7 356 1100 C357.9 1094.7 360.2 1084.9 362 1085 C364.2 1085.1 365.8 1101 368 1108 C369.9 1114.1 371.7 1124.8 374 1125 C375.8 1125.2 378.2 1119 380 1115 C382.4 1109.6 383 1098.5 386 1095 C387.7 1093 390.4 1091.2 392 1092 C395.3 1093.7 395.1 1111 397 1120 C398.8 1128.6 400.5 1137.8 403 1145 C405 1150.8 407.4 1155.4 410 1160 C412.4 1164.3 415.1 1171.3 418 1172 C420.2 1172.5 422.8 1170.3 425 1168 C428.4 1164.4 431.1 1155.9 434 1150 C436.8 1144.3 438.7 1135.8 442 1133 C444.1 1131.2 446.7 1130.7 449 1131 C451.4 1131.3 453.9 1132.6 456 1135 C459.4 1138.9 460.9 1149.7 464 1155 C466.4 1159.1 469.2 1164.6 472 1165 C474.3 1165.3 476.6 1161.4 479 1160 C481.3 1158.7 483.9 1156.4 486 1157 C488.4 1157.6 490.1 1162.4 492 1165 C493.8 1167.4 495.3 1172.1 497 1172 C499.2 1171.9 501.9 1164.3 504 1160 C506.3 1155.4 507.5 1147.9 510 1145 C511.5 1143.2 513.5 1141.5 515 1142 C517.1 1142.7 517.9 1149.5 520 1153 C522.2 1156.6 524.6 1160.8 528 1163 C531.3 1165.1 536.2 1166.3 540 1166 C543.5 1165.8 546.8 1162.4 550 1162 C552.8 1161.6 555.3 1163 558 1163 C560.9 1163 564 1161.7 567 1162 C570 1162.3 573.1 1165.1 576 1165 C578.8 1164.9 581.4 1163.4 584 1162 C586.8 1160.5 589.3 1157.7 592 1156 C594.6 1154.4 597.3 1153.9 600 1152 C603.3 1149.6 606.8 1145.4 610 1142 C613.1 1138.7 615.3 1135.1 619 1132 C623.4 1128.3 629.5 1124.9 635 1121.7 C640.5 1118.5 645.9 1115.5 652 1113 C658.5 1110.3 667.4 1109.1 673 1106 C677.3 1103.6 680.3 1100.8 683.4 1097.4 C686.7 1093.9 689.3 1085.9 692.1 1085.2 C693.9 1084.8 695.6 1086.4 697.3 1087.8 C699.7 1089.8 701.1 1094.3 704.3 1097.4 C708.6 1101.6 717.4 1103.8 721.7 1109.5 C726.6 1116 727 1128.1 730.3 1135.6 C732.9 1141.6 735.2 1148.1 739 1151.2 C742 1153.7 745.9 1152.5 749.5 1154.7 C754.5 1157.8 760.6 1166.2 765.1 1170.3 C768.3 1173.2 770.3 1176.9 773.8 1177.3 C778.5 1177.8 785.6 1169.2 791.2 1168.6 C796 1168.1 800.6 1172.3 805 1172 C809.2 1171.7 812.7 1168.1 817.2 1166.9 C822.4 1165.6 829.3 1165 834.6 1165.1 C839 1165.2 843.7 1165 846.8 1166.9 C849.8 1168.7 851.1 1172.2 853.2 1175.7 C856 1180.3 858.5 1187.4 861.5 1192.3 C864.1 1196.6 866.5 1199.5 869.8 1203.9 C874.3 1210 881.2 1218.9 886.3 1225.4 C890.5 1230.8 893.3 1234.2 898 1240 C905 1248.5 914.5 1260.9 924.2 1271.4 C934.9 1282.9 952.6 1307.8 960 1306 C965.7 1304.6 963.9 1281.8 969.1 1278.4 C972.8 1276 977.5 1279.9 983.5 1279.7 C993.5 1279.4 1008.9 1273.1 1023.6 1273.6 C1041.9 1274.2 1068.5 1275.2 1084.6 1286.8 C1102.2 1299.5 1102.1 1343 1122.4 1350.6 C1148.7 1360.4 1218.7 1311.4 1240.2 1311.5 C1248.3 1311.5 1250.6 1318.5 1256.9 1317.2 C1267.7 1315 1286.1 1293.5 1295.4 1282.6 C1302.1 1274.7 1306.2 1268.7 1310 1260 C1314.4 1249.9 1313.9 1226.3 1318.8 1224.8 C1322.1 1223.8 1331.6 1236.1 1331.6 1236.1" fill="none" stroke="#ff6600" stroke-width="4" stroke-linejoin="round"/>
<circle cx="315.3" cy="1093.6" r="6.4" fill="#669999" stroke="#fff" stroke-width="2.3"/>
<circle cx="318.1" cy="1065.6" r="6.4" fill="#669999" stroke="#fff" stroke-width="2.3"/>
<circle cx="322.3" cy="1057.2" r="6.4" fill="#669999" stroke="#fff" stroke-width="2.3"/>
<circle cx="326.5" cy="1050.1" r="6.4" fill="#669999" stroke="#fff" stroke-width="2.3"/>
<circle cx="330.7" cy="1106.3" r="6.4" fill="#669999" stroke="#fff" stroke-width="2.3"/>
<circle cx="332.1" cy="1089.4" r="6.4" fill="#669999" stroke="#fff" stroke-width="2.3"/>
<circle cx="337.7" cy="1089.4" r="6.4" fill="#669999" stroke="#fff" stroke-width="2.3"/>
<circle cx="343.3" cy="1088" r="6.4" fill="#669999" stroke="#fff" stroke-width="2.3"/>
<circle cx="347.5" cy="1089.4" r="6.4" fill="#669999" stroke="#fff" stroke-width="2.3"/>
<circle cx="351.7" cy="1082.4" r="6.4" fill="#669999" stroke="#fff" stroke-width="2.3"/>
<circle cx="356" cy="1068.4" r="6.4" fill="#669999" stroke="#fff" stroke-width="2.3"/>
<circle cx="363.8" cy="1040.3" r="6.4" fill="#669999" stroke="#fff" stroke-width="2.3"/>
<circle cx="368.6" cy="1111.9" r="6.4" fill="#669999" stroke="#fff" stroke-width="2.3"/>
<circle cx="372.8" cy="1075.4" r="6.4" fill="#669999" stroke="#fff" stroke-width="2.3"/>
<circle cx="377" cy="1072.6" r="6.4" fill="#669999" stroke="#fff" stroke-width="2.3"/>
<circle cx="382.6" cy="1082.4" r="6.4" fill="#669999" stroke="#fff" stroke-width="2.3"/>
<circle cx="389.6" cy="1075.4" r="6.4" fill="#669999" stroke="#fff" stroke-width="2.3"/>
<circle cx="396.1" cy="1066.4" r="6.4" fill="#669999" stroke="#fff" stroke-width="2.3"/>
<circle cx="402.3" cy="1043.7" r="6.4" fill="#669999" stroke="#fff" stroke-width="2.3"/>
<circle cx="407.9" cy="1067" r="6.4" fill="#669999" stroke="#fff" stroke-width="2.3"/>
<circle cx="413.5" cy="1051.5" r="6.4" fill="#669999" stroke="#fff" stroke-width="2.3"/>
<circle cx="421.9" cy="1043.7" r="6.4" fill="#669999" stroke="#fff" stroke-width="2.3"/>
<circle cx="430.3" cy="1050.1" r="6.4" fill="#669999" stroke="#fff" stroke-width="2.3"/>
<circle cx="438.8" cy="1047.9" r="6.4" fill="#669999" stroke="#fff" stroke-width="2.3"/>
<circle cx="445.8" cy="1037.5" r="6.4" fill="#669999" stroke="#fff" stroke-width="2.3"/>
<circle cx="452.8" cy="1044.5" r="6.4" fill="#669999" stroke="#fff" stroke-width="2.3"/>
<circle cx="460.4" cy="1064.2" r="6.4" fill="#669999" stroke="#fff" stroke-width="2.3"/>
<circle cx="468.2" cy="1041.7" r="6.4" fill="#669999" stroke="#fff" stroke-width="2.3"/>
<circle cx="475.2" cy="1030.5" r="6.4" fill="#669999" stroke="#fff" stroke-width="2.3"/>
<circle cx="483.7" cy="1038.9" r="6.4" fill="#669999" stroke="#fff" stroke-width="2.3"/>
<circle cx="492.1" cy="1041.7" r="6.4" fill="#669999" stroke="#fff" stroke-width="2.3"/>
<circle cx="500.5" cy="1044.5" r="6.4" fill="#669999" stroke="#fff" stroke-width="2.3"/>
<circle cx="508.9" cy="1050.1" r="6.4" fill="#669999" stroke="#fff" stroke-width="2.3"/>
<circle cx="514.5" cy="1055.8" r="6.4" fill="#669999" stroke="#fff" stroke-width="2.3"/>
<circle cx="521.5" cy="1060" r="6.4" fill="#669999" stroke="#fff" stroke-width="2.3"/>
<circle cx="528.6" cy="1061.4" r="6.4" fill="#669999" stroke="#fff" stroke-width="2.3"/>
<circle cx="537" cy="1065.6" r="6.4" fill="#669999" stroke="#fff" stroke-width="2.3"/>
<circle cx="544.8" cy="1068.4" r="6.4" fill="#669999" stroke="#fff" stroke-width="2.3"/>
<circle cx="553.8" cy="1060.8" r="6.4" fill="#669999" stroke="#fff" stroke-width="2.3"/>
<circle cx="560.8" cy="1058.6" r="6.4" fill="#669999" stroke="#fff" stroke-width="2.3"/>
<circle cx="570.7" cy="1045.9" r="6.4" fill="#669999" stroke="#fff" stroke-width="2.3"/>
<circle cx="576.3" cy="1046.8" r="6.4" fill="#669999" stroke="#fff" stroke-width="2.3"/>
<circle cx="581.9" cy="1047.3" r="6.4" fill="#669999" stroke="#fff" stroke-width="2.3"/>
<circle cx="590.3" cy="1050.1" r="6.4" fill="#669999" stroke="#fff" stroke-width="2.3"/>
<circle cx="595.9" cy="1067" r="6.4" fill="#669999" stroke="#fff" stroke-width="2.3"/>
<circle cx="601.5" cy="1053" r="6.4" fill="#669999" stroke="#fff" stroke-width="2.3"/>
<circle cx="608.6" cy="1054.4" r="6.4" fill="#669999" stroke="#fff" stroke-width="2.3"/>
<circle cx="615.6" cy="1067" r="6.4" fill="#669999" stroke="#fff" stroke-width="2.3"/>
<circle cx="623.4" cy="1044.5" r="6.4" fill="#669999" stroke="#fff" stroke-width="2.3"/>
<circle cx="631" cy="1058.6" r="6.4" fill="#669999" stroke="#fff" stroke-width="2.3"/>
<circle cx="638" cy="1029.1" r="6.4" fill="#669999" stroke="#fff" stroke-width="2.3"/>
<circle cx="646.7" cy="1033.9" r="6.4" fill="#669999" stroke="#fff" stroke-width="2.3"/>
<circle cx="657.3" cy="1015.1" r="6.4" fill="#669999" stroke="#fff" stroke-width="2.3"/>
<circle cx="667.7" cy="1001" r="6.4" fill="#669999" stroke="#fff" stroke-width="2.3"/>
<circle cx="678.4" cy="999.6" r="6.4" fill="#669999" stroke="#fff" stroke-width="2.3"/>
<circle cx="689.6" cy="1004.4" r="6.4" fill="#669999" stroke="#fff" stroke-width="2.3"/>
<circle cx="699.4" cy="989.2" r="6.4" fill="#669999" stroke="#fff" stroke-width="2.3"/>
<circle cx="707" cy="985" r="6.4" fill="#669999" stroke="#fff" stroke-width="2.3"/>
<circle cx="714" cy="962.6" r="6.4" fill="#669999" stroke="#fff" stroke-width="2.3"/>
<circle cx="721" cy="964.5" r="6.4" fill="#669999" stroke="#fff" stroke-width="2.3"/>
<circle cx="726.7" cy="950" r="6.4" fill="#669999" stroke="#fff" stroke-width="2.3"/>
<circle cx="730.9" cy="973" r="6.4" fill="#669999" stroke="#fff" stroke-width="2.3"/>
<circle cx="736.5" cy="975.2" r="6.4" fill="#669999" stroke="#fff" stroke-width="2.3"/>
<circle cx="748.5" cy="1043.7" r="6.4" fill="#669999" stroke="#fff" stroke-width="2.3"/>
<circle cx="765.4" cy="1109.1" r="6.4" fill="#669999" stroke="#fff" stroke-width="2.3"/>
<circle cx="779.4" cy="1150.3" r="6.4" fill="#669999" stroke="#fff" stroke-width="2.3"/>
<circle cx="789.2" cy="1114.7" r="6.4" fill="#669999" stroke="#fff" stroke-width="2.3"/>
<circle cx="796.3" cy="1125.4" r="6.4" fill="#669999" stroke="#fff" stroke-width="2.3"/>
<circle cx="803.8" cy="1154.8" r="6.4" fill="#669999" stroke="#fff" stroke-width="2.3"/>
<circle cx="812.3" cy="1158.8" r="6.4" fill="#669999" stroke="#fff" stroke-width="2.3"/>
<circle cx="818.7" cy="1169.4" r="6.4" fill="#669999" stroke="#fff" stroke-width="2.3"/>
<circle cx="825.7" cy="1152.6" r="6.4" fill="#669999" stroke="#fff" stroke-width="2.3"/>
<circle cx="831.9" cy="1139.1" r="6.4" fill="#669999" stroke="#fff" stroke-width="2.3"/>
<circle cx="836.1" cy="1105.7" r="6.4" fill="#669999" stroke="#fff" stroke-width="2.3"/>
<circle cx="841.7" cy="1114.7" r="6.4" fill="#669999" stroke="#fff" stroke-width="2.3"/>
<circle cx="849.6" cy="1136.6" r="6.4" fill="#669999" stroke="#fff" stroke-width="2.3"/>
<circle cx="866.4" cy="1156.2" r="6.4" fill="#669999" stroke="#fff" stroke-width="2.3"/>
<circle cx="885.7" cy="1197.6" r="6.4" fill="#669999" stroke="#fff" stroke-width="2.3"/>
<circle cx="902.7" cy="1241.9" r="6.4" fill="#669999" stroke="#fff" stroke-width="2.3"/>
<circle cx="921.9" cy="1269.1" r="6.4" fill="#669999" stroke="#fff" stroke-width="2.3"/>
<circle cx="939.6" cy="1325.9" r="6.4" fill="#669999" stroke="#fff" stroke-width="2.3"/>
<circle cx="954" cy="1358" r="6.4" fill="#669999" stroke="#fff" stroke-width="2.3"/>
<circle cx="972.3" cy="1350" r="6.4" fill="#669999" stroke="#fff" stroke-width="2.3"/>
<circle cx="964.9" cy="1370.2" r="6.4" fill="#669999" stroke="#fff" stroke-width="2.3"/>
<circle cx="979.7" cy="1373.4" r="6.4" fill="#669999" stroke="#fff" stroke-width="2.3"/>
<circle cx="991.5" cy="1370.8" r="6.4" fill="#669999" stroke="#fff" stroke-width="2.3"/>
<circle cx="1013.4" cy="1333.3" r="6.4" fill="#669999" stroke="#fff" stroke-width="2.3"/>
<circle cx="1033.2" cy="1353.8" r="6.4" fill="#669999" stroke="#fff" stroke-width="2.3"/>
<circle cx="1054.4" cy="1366.7" r="6.4" fill="#669999" stroke="#fff" stroke-width="2.3"/>
<circle cx="1075" cy="1353.2" r="6.4" fill="#669999" stroke="#fff" stroke-width="2.3"/>
<circle cx="1094.2" cy="1353.2" r="6.4" fill="#669999" stroke="#fff" stroke-width="2.3"/>
<circle cx="1113.4" cy="1339.4" r="6.4" fill="#669999" stroke="#fff" stroke-width="2.3"/>
<circle cx="1133.3" cy="1329.1" r="6.4" fill="#669999" stroke="#fff" stroke-width="2.3"/>
<circle cx="1157.4" cy="1354.8" r="6.4" fill="#669999" stroke="#fff" stroke-width="2.3"/>
<circle cx="1183.4" cy="1362.8" r="6.4" fill="#669999" stroke="#fff" stroke-width="2.3"/>
<circle cx="1209.7" cy="1344.5" r="6.4" fill="#669999" stroke="#fff" stroke-width="2.3"/>
<circle cx="1231.2" cy="1332.3" r="6.4" fill="#669999" stroke="#fff" stroke-width="2.3"/>
<circle cx="1248.8" cy="1331.4" r="6.4" fill="#669999" stroke="#fff" stroke-width="2.3"/>
<circle cx="1263.3" cy="1335.5" r="6.4" fill="#669999" stroke="#fff" stroke-width="2.3"/>
<circle cx="1276.1" cy="1322.7" r="6.4" fill="#669999" stroke="#fff" stroke-width="2.3"/>
<circle cx="1288.9" cy="1304.1" r="6.4" fill="#669999" stroke="#fff" stroke-width="2.3"/>
<circle cx="1302.7" cy="1297" r="6.4" fill="#669999" stroke="#fff" stroke-width="2.3"/>
<circle cx="1311.4" cy="1294.8" r="6.4" fill="#669999" stroke="#fff" stroke-width="2.3"/>
<circle cx="1317.8" cy="1262.4" r="6.4" fill="#669999" stroke="#fff" stroke-width="2.3"/>
<circle cx="1324.2" cy="1300.9" r="6.4" fill="#669999" stroke="#fff" stroke-width="2.3"/>
<circle cx="401.4" cy="1135.7" r="6.4" fill="#003399" stroke="#fff" stroke-width="2.3"/>
<circle cx="429.8" cy="1090.3" r="6.4" fill="#003399" stroke="#fff" stroke-width="2.3"/>
<circle cx="446.3" cy="1057.2" r="6.4" fill="#003399" stroke="#fff" stroke-width="2.3"/>
<circle cx="487.3" cy="1071.2" r="6.4" fill="#003399" stroke="#fff" stroke-width="2.3"/>
<circle cx="515.1" cy="1078.2" r="6.4" fill="#003399" stroke="#fff" stroke-width="2.3"/>
<circle cx="548.8" cy="1105.4" r="6.4" fill="#003399" stroke="#fff" stroke-width="2.3"/>
<circle cx="561.4" cy="1070.6" r="6.4" fill="#003399" stroke="#fff" stroke-width="2.3"/>
<circle cx="574.9" cy="1072.6" r="6.4" fill="#003399" stroke="#fff" stroke-width="2.3"/>
<circle cx="577.7" cy="1081.9" r="6.4" fill="#003399" stroke="#fff" stroke-width="2.3"/>
<circle cx="576.3" cy="1139.4" r="6.4" fill="#003399" stroke="#fff" stroke-width="2.3"/>
<circle cx="598.7" cy="1133.5" r="6.4" fill="#003399" stroke="#fff" stroke-width="2.3"/>
<circle cx="622.8" cy="1079.6" r="6.4" fill="#003399" stroke="#fff" stroke-width="2.3"/>
<circle cx="627" cy="1072" r="6.4" fill="#003399" stroke="#fff" stroke-width="2.3"/>
<circle cx="624.2" cy="1037.5" r="6.4" fill="#003399" stroke="#fff" stroke-width="2.3"/>
<circle cx="638.2" cy="1040.3" r="6.4" fill="#003399" stroke="#fff" stroke-width="2.3"/>
<circle cx="643.9" cy="1050.7" r="6.4" fill="#003399" stroke="#fff" stroke-width="2.3"/>
<circle cx="641" cy="1080.2" r="6.4" fill="#003399" stroke="#fff" stroke-width="2.3"/>
<circle cx="671.9" cy="1043.7" r="6.4" fill="#003399" stroke="#fff" stroke-width="2.3"/>
<circle cx="704.2" cy="1067.8" r="6.4" fill="#003399" stroke="#fff" stroke-width="2.3"/>
<circle cx="717.7" cy="1032.5" r="6.4" fill="#003399" stroke="#fff" stroke-width="2.3"/>
<circle cx="726.1" cy="987.8" r="6.4" fill="#003399" stroke="#fff" stroke-width="2.3"/>
<circle cx="740.1" cy="990.6" r="6.4" fill="#003399" stroke="#fff" stroke-width="2.3"/>
<circle cx="729.5" cy="1055.8" r="6.4" fill="#003399" stroke="#fff" stroke-width="2.3"/>
<circle cx="728.1" cy="1069.2" r="6.4" fill="#003399" stroke="#fff" stroke-width="2.3"/>
<circle cx="789.2" cy="1008.6" r="6.4" fill="#003399" stroke="#fff" stroke-width="2.3"/>
<circle cx="800.5" cy="1105.4" r="6.4" fill="#003399" stroke="#fff" stroke-width="2.3"/>
<circle cx="818.7" cy="1052.4" r="6.4" fill="#003399" stroke="#fff" stroke-width="2.3"/>
<circle cx="822.1" cy="1068.7" r="6.4" fill="#003399" stroke="#fff" stroke-width="2.3"/>
<circle cx="833.9" cy="987.8" r="6.4" fill="#003399" stroke="#fff" stroke-width="2.3"/>
<circle cx="844.5" cy="990.4" r="6.4" fill="#003399" stroke="#fff" stroke-width="2.3"/>
<circle cx="878.4" cy="1150.5" r="6.4" fill="#003399" stroke="#fff" stroke-width="2.3"/>
<circle cx="946.6" cy="1276.8" r="6.4" fill="#003399" stroke="#fff" stroke-width="2.3"/>
<circle cx="961.1" cy="1216.2" r="6.4" fill="#003399" stroke="#fff" stroke-width="2.3"/>
<circle cx="983.5" cy="1242.5" r="6.4" fill="#003399" stroke="#fff" stroke-width="2.3"/>
<circle cx="977.1" cy="1273" r="6.4" fill="#003399" stroke="#fff" stroke-width="2.3"/>
<circle cx="1018.8" cy="1267.2" r="6.4" fill="#003399" stroke="#fff" stroke-width="2.3"/>
<circle cx="1023.6" cy="1215.9" r="6.4" fill="#003399" stroke="#fff" stroke-width="2.3"/>
<circle cx="1033.2" cy="1249.9" r="6.4" fill="#003399" stroke="#fff" stroke-width="2.3"/>
<circle cx="1084.6" cy="1207.8" r="6.4" fill="#003399" stroke="#fff" stroke-width="2.3"/>
<circle cx="1122.4" cy="1207.8" r="6.4" fill="#003399" stroke="#fff" stroke-width="2.3"/>
<circle cx="1237" cy="1233.8" r="6.4" fill="#003399" stroke="#fff" stroke-width="2.3"/>
<circle cx="1240.8" cy="1233.8" r="6.4" fill="#003399" stroke="#fff" stroke-width="2.3"/>
<circle cx="1253" cy="1245.1" r="6.4" fill="#003399" stroke="#fff" stroke-width="2.3"/>
<circle cx="1248.2" cy="1188.9" r="6.4" fill="#003399" stroke="#fff" stroke-width="2.3"/>
<circle cx="1256.9" cy="1180.6" r="6.4" fill="#003399" stroke="#fff" stroke-width="2.3"/>
<circle cx="1263.3" cy="1192.8" r="6.4" fill="#003399" stroke="#fff" stroke-width="2.3"/>
<circle cx="1276.1" cy="1214.3" r="6.4" fill="#003399" stroke="#fff" stroke-width="2.3"/>
<circle cx="1282.8" cy="1127.6" r="6.4" fill="#003399" stroke="#fff" stroke-width="2.3"/>
<circle cx="1295.4" cy="1198.2" r="6.4" fill="#003399" stroke="#fff" stroke-width="2.3"/>
<circle cx="1308.2" cy="1198.2" r="6.4" fill="#003399" stroke="#fff" stroke-width="2.3"/>
<circle cx="1321" cy="1199.2" r="6.4" fill="#003399" stroke="#fff" stroke-width="2.3"/>
<circle cx="1325.2" cy="1212" r="6.4" fill="#003399" stroke="#fff" stroke-width="2.3"/>
<circle cx="1305.9" cy="1241.5" r="6.4" fill="#003399" stroke="#fff" stroke-width="2.3"/>
<circle cx="1314.9" cy="1288" r="6.4" fill="#003399" stroke="#fff" stroke-width="2.3"/>
<circle cx="313.2" cy="1174.4" r="6.4" fill="#ff6600" stroke="#fff" stroke-width="2.3"/>
<circle cx="316.5" cy="1157.2" r="6.4" fill="#ff6600" stroke="#fff" stroke-width="2.3"/>
<circle cx="319.8" cy="1177.1" r="6.4" fill="#ff6600" stroke="#fff" stroke-width="2.3"/>
<circle cx="324.9" cy="1127" r="6.4" fill="#ff6600" stroke="#fff" stroke-width="2.3"/>
<circle cx="328.6" cy="1175.3" r="6.4" fill="#ff6600" stroke="#fff" stroke-width="2.3"/>
<circle cx="331.9" cy="1112" r="6.4" fill="#ff6600" stroke="#fff" stroke-width="2.3"/>
<circle cx="336.3" cy="988.4" r="6.4" fill="#ff6600" stroke="#fff" stroke-width="2.3"/>
<circle cx="340.7" cy="1145.7" r="6.4" fill="#ff6600" stroke="#fff" stroke-width="2.3"/>
<circle cx="349.6" cy="1117.5" r="6.4" fill="#ff6600" stroke="#fff" stroke-width="2.3"/>
<circle cx="353.5" cy="1106" r="6.4" fill="#ff6600" stroke="#fff" stroke-width="2.3"/>
<circle cx="357.3" cy="1162.3" r="6.4" fill="#ff6600" stroke="#fff" stroke-width="2.3"/>
<circle cx="362.4" cy="1072.6" r="6.4" fill="#ff6600" stroke="#fff" stroke-width="2.3"/>
<circle cx="374.9" cy="1142.9" r="6.4" fill="#ff6600" stroke="#fff" stroke-width="2.3"/>
<circle cx="379.8" cy="1129" r="6.4" fill="#ff6600" stroke="#fff" stroke-width="2.3"/>
<circle cx="386" cy="1061.4" r="6.4" fill="#ff6600" stroke="#fff" stroke-width="2.3"/>
<circle cx="392.6" cy="1097.6" r="6.4" fill="#ff6600" stroke="#fff" stroke-width="2.3"/>
<circle cx="398.1" cy="1153.2" r="6.4" fill="#ff6600" stroke="#fff" stroke-width="2.3"/>
<circle cx="404.7" cy="1152.8" r="6.4" fill="#ff6600" stroke="#fff" stroke-width="2.3"/>
<circle cx="410.9" cy="1153.2" r="6.4" fill="#ff6600" stroke="#fff" stroke-width="2.3"/>
<circle cx="418.4" cy="1184.8" r="6.4" fill="#ff6600" stroke="#fff" stroke-width="2.3"/>
<circle cx="425" cy="1171.1" r="6.4" fill="#ff6600" stroke="#fff" stroke-width="2.3"/>
<circle cx="434.5" cy="1149.5" r="6.4" fill="#ff6600" stroke="#fff" stroke-width="2.3"/>
<circle cx="442.7" cy="1121.9" r="6.4" fill="#ff6600" stroke="#fff" stroke-width="2.3"/>
<circle cx="448.8" cy="1132.9" r="6.4" fill="#ff6600" stroke="#fff" stroke-width="2.3"/>
<circle cx="455.9" cy="1125.9" r="6.4" fill="#ff6600" stroke="#fff" stroke-width="2.3"/>
<circle cx="464.3" cy="1161.2" r="6.4" fill="#ff6600" stroke="#fff" stroke-width="2.3"/>
<circle cx="472.2" cy="1180.4" r="6.4" fill="#ff6600" stroke="#fff" stroke-width="2.3"/>
<circle cx="479.3" cy="1154.6" r="6.4" fill="#ff6600" stroke="#fff" stroke-width="2.3"/>
<circle cx="484.6" cy="1163.4" r="6.4" fill="#ff6600" stroke="#fff" stroke-width="2.3"/>
<circle cx="490.3" cy="1136.9" r="6.4" fill="#ff6600" stroke="#fff" stroke-width="2.3"/>
<circle cx="496.9" cy="1174.9" r="6.4" fill="#ff6600" stroke="#fff" stroke-width="2.3"/>
<circle cx="504.4" cy="1174.9" r="6.4" fill="#ff6600" stroke="#fff" stroke-width="2.3"/>
<circle cx="512.4" cy="1121.5" r="6.4" fill="#ff6600" stroke="#fff" stroke-width="2.3"/>
<circle cx="518.3" cy="1156.8" r="6.4" fill="#ff6600" stroke="#fff" stroke-width="2.3"/>
<circle cx="524.3" cy="1155" r="6.4" fill="#ff6600" stroke="#fff" stroke-width="2.3"/>
<circle cx="531.6" cy="1170.9" r="6.4" fill="#ff6600" stroke="#fff" stroke-width="2.3"/>
<circle cx="540.4" cy="1166.7" r="6.4" fill="#ff6600" stroke="#fff" stroke-width="2.3"/>
<circle cx="549.2" cy="1159.4" r="6.4" fill="#ff6600" stroke="#fff" stroke-width="2.3"/>
<circle cx="558" cy="1166" r="6.4" fill="#ff6600" stroke="#fff" stroke-width="2.3"/>
<circle cx="566.9" cy="1160.5" r="6.4" fill="#ff6600" stroke="#fff" stroke-width="2.3"/>
<circle cx="575.7" cy="1166" r="6.4" fill="#ff6600" stroke="#fff" stroke-width="2.3"/>
<circle cx="583.4" cy="1164.9" r="6.4" fill="#ff6600" stroke="#fff" stroke-width="2.3"/>
<circle cx="586.7" cy="1159.4" r="6.4" fill="#ff6600" stroke="#fff" stroke-width="2.3"/>
<circle cx="592.2" cy="1155" r="6.4" fill="#ff6600" stroke="#fff" stroke-width="2.3"/>
<circle cx="598.8" cy="1157.2" r="6.4" fill="#ff6600" stroke="#fff" stroke-width="2.3"/>
<circle cx="605.5" cy="1152.8" r="6.4" fill="#ff6600" stroke="#fff" stroke-width="2.3"/>
<circle cx="612.1" cy="1139.6" r="6.4" fill="#ff6600" stroke="#fff" stroke-width="2.3"/>
<circle cx="618.7" cy="1121.9" r="6.4" fill="#ff6600" stroke="#fff" stroke-width="2.3"/>
<circle cx="627.5" cy="1139.1" r="6.4" fill="#ff6600" stroke="#fff" stroke-width="2.3"/>
<circle cx="635.6" cy="1110.4" r="6.4" fill="#ff6600" stroke="#fff" stroke-width="2.3"/>
<circle cx="643.1" cy="1120.8" r="6.4" fill="#ff6600" stroke="#fff" stroke-width="2.3"/>
<circle cx="652.1" cy="1109.5" r="6.4" fill="#ff6600" stroke="#fff" stroke-width="2.3"/>
<circle cx="662.6" cy="1116.5" r="6.4" fill="#ff6600" stroke="#fff" stroke-width="2.3"/>
<circle cx="672.1" cy="1108.6" r="6.4" fill="#ff6600" stroke="#fff" stroke-width="2.3"/>
<circle cx="684.3" cy="1100.8" r="6.4" fill="#ff6600" stroke="#fff" stroke-width="2.3"/>
<circle cx="695.2" cy="1072.2" r="6.4" fill="#ff6600" stroke="#fff" stroke-width="2.3"/>
<circle cx="704.3" cy="1107.8" r="6.4" fill="#ff6600" stroke="#fff" stroke-width="2.3"/>
<circle cx="710.7" cy="1096.5" r="6.4" fill="#ff6600" stroke="#fff" stroke-width="2.3"/>
<circle cx="717.3" cy="1120.8" r="6.4" fill="#ff6600" stroke="#fff" stroke-width="2.3"/>
<circle cx="723.7" cy="1111.3" r="6.4" fill="#ff6600" stroke="#fff" stroke-width="2.3"/>
<circle cx="729" cy="1130" r="6.4" fill="#ff6600" stroke="#fff" stroke-width="2.3"/>
<circle cx="733" cy="1166.3" r="6.4" fill="#ff6600" stroke="#fff" stroke-width="2.3"/>
<circle cx="739.9" cy="1145.5" r="6.4" fill="#ff6600" stroke="#fff" stroke-width="2.3"/>
<circle cx="756.8" cy="1165.1" r="6.4" fill="#ff6600" stroke="#fff" stroke-width="2.3"/>
<circle cx="774.3" cy="1183" r="6.4" fill="#ff6600" stroke="#fff" stroke-width="2.3"/>
<circle cx="784.6" cy="1174.7" r="6.4" fill="#ff6600" stroke="#fff" stroke-width="2.3"/>
<circle cx="792.9" cy="1167.4" r="6.4" fill="#ff6600" stroke="#fff" stroke-width="2.3"/>
<circle cx="799.9" cy="1181.3" r="6.4" fill="#ff6600" stroke="#fff" stroke-width="2.3"/>
<circle cx="807.7" cy="1189.5" r="6.4" fill="#ff6600" stroke="#fff" stroke-width="2.3"/>
<circle cx="813.8" cy="1173.8" r="6.4" fill="#ff6600" stroke="#fff" stroke-width="2.3"/>
<circle cx="822.5" cy="1172.1" r="6.4" fill="#ff6600" stroke="#fff" stroke-width="2.3"/>
<circle cx="832.9" cy="1168.6" r="6.4" fill="#ff6600" stroke="#fff" stroke-width="2.3"/>
<circle cx="839" cy="1176.4" r="6.4" fill="#ff6600" stroke="#fff" stroke-width="2.3"/>
<circle cx="845" cy="1153" r="6.4" fill="#ff6600" stroke="#fff" stroke-width="2.3"/>
<circle cx="854.6" cy="1183.9" r="6.4" fill="#ff6600" stroke="#fff" stroke-width="2.3"/>
<circle cx="960.4" cy="1311.5" r="6.4" fill="#ff6600" stroke="#fff" stroke-width="2.3"/>
<circle cx="969.1" cy="1278.4" r="6.4" fill="#ff6600" stroke="#fff" stroke-width="2.3"/>
<circle cx="976.1" cy="1286.8" r="6.4" fill="#ff6600" stroke="#fff" stroke-width="2.3"/>
<circle cx="983.5" cy="1279.7" r="6.4" fill="#ff6600" stroke="#fff" stroke-width="2.3"/>
<circle cx="1023.6" cy="1273.6" r="6.4" fill="#ff6600" stroke="#fff" stroke-width="2.3"/>
<circle cx="1084.6" cy="1286.8" r="6.4" fill="#ff6600" stroke="#fff" stroke-width="2.3"/>
<circle cx="1122.4" cy="1350.6" r="6.4" fill="#ff6600" stroke="#fff" stroke-width="2.3"/>
<circle cx="1240.2" cy="1311.5" r="6.4" fill="#ff6600" stroke="#fff" stroke-width="2.3"/>
<circle cx="1256.9" cy="1317.2" r="6.4" fill="#ff6600" stroke="#fff" stroke-width="2.3"/>
<circle cx="1295.4" cy="1282.6" r="6.4" fill="#ff6600" stroke="#fff" stroke-width="2.3"/>
<circle cx="1308.2" cy="1321.1" r="6.4" fill="#ff6600" stroke="#fff" stroke-width="2.3"/>
<circle cx="1314.9" cy="1215.2" r="6.4" fill="#ff6600" stroke="#fff" stroke-width="2.3"/>
<text x="336.2" y="864.7" font-size="24.3" font-weight="bold" fill="#ff6033" font-family="Liberation Sans, sans-serif" >Planktic foraminifer assemblages</text>
<text x="336.2" y="891.2" font-size="24.3" font-weight="bold" fill="#003399" font-family="Liberation Sans, sans-serif" ><tspan font-style="italic">N. pachyderma</tspan> Mg/Ca ratios</text>
<text x="336.2" y="920.6" font-size="24.3" font-weight="bold" fill="#336666" font-family="Liberation Sans, sans-serif" >TEX<tspan font-size="18" dy="-11.3">L</tspan><tspan font-size="18.5" dy="11.3">86</tspan></text>
<line x1="350.9" y1="1416.6" x2="366.3" y2="1416.6" stroke="#666" stroke-width="1.8"/>
<line x1="350.9" y1="1411.8" x2="350.9" y2="1421" stroke="#666" stroke-width="1.8"/>
<line x1="366.3" y1="1411.8" x2="366.3" y2="1421" stroke="#666" stroke-width="1.8"/>
<line x1="366.3" y1="1416.6" x2="387.6" y2="1416.6" stroke="#666" stroke-width="1.8"/>
<line x1="366.3" y1="1411.8" x2="366.3" y2="1421" stroke="#666" stroke-width="1.8"/>
<line x1="387.6" y1="1411.8" x2="387.6" y2="1421" stroke="#666" stroke-width="1.8"/>
<line x1="387.6" y1="1416.6" x2="410.4" y2="1416.6" stroke="#666" stroke-width="1.8"/>
<line x1="387.6" y1="1411.8" x2="387.6" y2="1421" stroke="#666" stroke-width="1.8"/>
<line x1="410.4" y1="1411.8" x2="410.4" y2="1421" stroke="#666" stroke-width="1.8"/>
<line x1="413" y1="1416.6" x2="434.4" y2="1416.6" stroke="#666" stroke-width="1.8"/>
<line x1="413" y1="1411.8" x2="413" y2="1421" stroke="#666" stroke-width="1.8"/>
<line x1="434.4" y1="1411.8" x2="434.4" y2="1421" stroke="#666" stroke-width="1.8"/>
<line x1="435.1" y1="1416.6" x2="457.2" y2="1416.6" stroke="#666" stroke-width="1.8"/>
<line x1="435.1" y1="1411.8" x2="435.1" y2="1421" stroke="#666" stroke-width="1.8"/>
<line x1="457.2" y1="1411.8" x2="457.2" y2="1421" stroke="#666" stroke-width="1.8"/>
<line x1="474.8" y1="1416.6" x2="498.2" y2="1416.6" stroke="#666" stroke-width="1.8"/>
<line x1="474.8" y1="1411.8" x2="474.8" y2="1421" stroke="#666" stroke-width="1.8"/>
<line x1="498.2" y1="1411.8" x2="498.2" y2="1421" stroke="#666" stroke-width="1.8"/>
<line x1="505.3" y1="1416.6" x2="529.8" y2="1416.6" stroke="#666" stroke-width="1.8"/>
<line x1="505.3" y1="1411.8" x2="505.3" y2="1421" stroke="#666" stroke-width="1.8"/>
<line x1="529.8" y1="1411.8" x2="529.8" y2="1421" stroke="#666" stroke-width="1.8"/>
<line x1="549.6" y1="1416.6" x2="607.9" y2="1416.6" stroke="#666" stroke-width="1.8"/>
<line x1="549.6" y1="1411.8" x2="549.6" y2="1421" stroke="#666" stroke-width="1.8"/>
<line x1="607.9" y1="1411.8" x2="607.9" y2="1421" stroke="#666" stroke-width="1.8"/>
<line x1="613.4" y1="1416.6" x2="653.1" y2="1416.6" stroke="#666" stroke-width="1.8"/>
<line x1="613.4" y1="1411.8" x2="613.4" y2="1421" stroke="#666" stroke-width="1.8"/>
<line x1="653.1" y1="1411.8" x2="653.1" y2="1421" stroke="#666" stroke-width="1.8"/>
<line x1="656.7" y1="1416.6" x2="684.4" y2="1416.6" stroke="#666" stroke-width="1.8"/>
<line x1="656.7" y1="1411.8" x2="656.7" y2="1421" stroke="#666" stroke-width="1.8"/>
<line x1="684.4" y1="1411.8" x2="684.4" y2="1421" stroke="#666" stroke-width="1.8"/>
<line x1="686.8" y1="1416.6" x2="752.9" y2="1416.6" stroke="#666" stroke-width="1.8"/>
<line x1="686.8" y1="1411.8" x2="686.8" y2="1421" stroke="#666" stroke-width="1.8"/>
<line x1="752.9" y1="1411.8" x2="752.9" y2="1421" stroke="#666" stroke-width="1.8"/>
<line x1="761.4" y1="1416.6" x2="786.6" y2="1416.6" stroke="#666" stroke-width="1.8"/>
<line x1="761.4" y1="1411.8" x2="761.4" y2="1421" stroke="#666" stroke-width="1.8"/>
<line x1="786.6" y1="1411.8" x2="786.6" y2="1421" stroke="#666" stroke-width="1.8"/>
<line x1="790.2" y1="1416.6" x2="869.6" y2="1416.6" stroke="#666" stroke-width="1.8"/>
<line x1="790.2" y1="1411.8" x2="790.2" y2="1421" stroke="#666" stroke-width="1.8"/>
<line x1="869.6" y1="1411.8" x2="869.6" y2="1421" stroke="#666" stroke-width="1.8"/>
<line x1="867.2" y1="1416.6" x2="896.1" y2="1416.6" stroke="#666" stroke-width="1.8"/>
<line x1="867.2" y1="1411.8" x2="867.2" y2="1421" stroke="#666" stroke-width="1.8"/>
<line x1="896.1" y1="1411.8" x2="896.1" y2="1421" stroke="#666" stroke-width="1.8"/>
<line x1="929" y1="1416.6" x2="991.5" y2="1416.6" stroke="#666" stroke-width="1.8"/>
<line x1="929" y1="1411.8" x2="929" y2="1421" stroke="#666" stroke-width="1.8"/>
<line x1="991.5" y1="1411.8" x2="991.5" y2="1421" stroke="#666" stroke-width="1.8"/>
<line x1="994.7" y1="1416.6" x2="1045.1" y2="1416.6" stroke="#666" stroke-width="1.8"/>
<line x1="994.7" y1="1411.8" x2="994.7" y2="1421" stroke="#666" stroke-width="1.8"/>
<line x1="1045.1" y1="1411.8" x2="1045.1" y2="1421" stroke="#666" stroke-width="1.8"/>
<line x1="1051.5" y1="1416.6" x2="1161" y2="1416.6" stroke="#666" stroke-width="1.8"/>
<line x1="1051.5" y1="1411.8" x2="1051.5" y2="1421" stroke="#666" stroke-width="1.8"/>
<line x1="1161" y1="1411.8" x2="1161" y2="1421" stroke="#666" stroke-width="1.8"/>
<line x1="1200.7" y1="1416.6" x2="1337.8" y2="1416.6" stroke="#666" stroke-width="1.8"/>
<line x1="1200.7" y1="1411.8" x2="1200.7" y2="1421" stroke="#666" stroke-width="1.8"/>
<line x1="1337.8" y1="1411.8" x2="1337.8" y2="1421" stroke="#666" stroke-width="1.8"/>
<line x1="556" y1="1411.8" x2="556" y2="1421" stroke="#666" stroke-width="1.8"/>
<line x1="600" y1="1411.8" x2="600" y2="1421" stroke="#666" stroke-width="1.8"/>
<line x1="620" y1="1411.8" x2="620" y2="1421" stroke="#666" stroke-width="1.8"/>
<line x1="647" y1="1411.8" x2="647" y2="1421" stroke="#666" stroke-width="1.8"/>
<line x1="691" y1="1411.8" x2="691" y2="1421" stroke="#666" stroke-width="1.8"/>
<line x1="747" y1="1411.8" x2="747" y2="1421" stroke="#666" stroke-width="1.8"/>
<line x1="766" y1="1411.8" x2="766" y2="1421" stroke="#666" stroke-width="1.8"/>
<line x1="781" y1="1411.8" x2="781" y2="1421" stroke="#666" stroke-width="1.8"/>
<line x1="795" y1="1411.8" x2="795" y2="1421" stroke="#666" stroke-width="1.8"/>
<line x1="861" y1="1411.8" x2="861" y2="1421" stroke="#666" stroke-width="1.8"/>
<line x1="874" y1="1411.8" x2="874" y2="1421" stroke="#666" stroke-width="1.8"/>
<line x1="889" y1="1411.8" x2="889" y2="1421" stroke="#666" stroke-width="1.8"/>
<line x1="935" y1="1411.8" x2="935" y2="1421" stroke="#666" stroke-width="1.8"/>
<line x1="988" y1="1411.8" x2="988" y2="1421" stroke="#666" stroke-width="1.8"/>
<line x1="999" y1="1411.8" x2="999" y2="1421" stroke="#666" stroke-width="1.8"/>
<line x1="1040" y1="1411.8" x2="1040" y2="1421" stroke="#666" stroke-width="1.8"/>
<line x1="1056" y1="1411.8" x2="1056" y2="1421" stroke="#666" stroke-width="1.8"/>
<line x1="1206" y1="1411.8" x2="1206" y2="1421" stroke="#666" stroke-width="1.8"/>
<line x1="1224" y1="1411.8" x2="1224" y2="1421" stroke="#666" stroke-width="1.8"/>
<line x1="1276" y1="1411.8" x2="1276" y2="1421" stroke="#666" stroke-width="1.8"/>
<line x1="1282" y1="1411.8" x2="1282" y2="1421" stroke="#666" stroke-width="1.8"/>
<line x1="1290" y1="1411.8" x2="1290" y2="1421" stroke="#666" stroke-width="1.8"/>
<line x1="1300" y1="1411.8" x2="1300" y2="1421" stroke="#666" stroke-width="1.8"/>
<line x1="1322" y1="1411.8" x2="1322" y2="1421" stroke="#666" stroke-width="1.8"/>
<path d="M316.8 1408.6 L324 1420.9 L309.6 1420.9 Z" fill="#e3e3e3" stroke="#5e5e5e" stroke-width="2" stroke-linejoin="miter"/>
<path d="M327.2 1408.6 L334.4 1420.9 L320 1420.9 Z" fill="#e3e3e3" stroke="#5e5e5e" stroke-width="2" stroke-linejoin="miter"/>
<path d="M359.6 1408.6 L366.8 1420.9 L352.4 1420.9 Z" fill="#e3e3e3" stroke="#5e5e5e" stroke-width="2" stroke-linejoin="miter"/>
<path d="M373 1408.6 L380.2 1420.9 L365.8 1420.9 Z" fill="#e3e3e3" stroke="#5e5e5e" stroke-width="2" stroke-linejoin="miter"/>
<path d="M379.6 1408.6 L386.8 1420.9 L372.4 1420.9 Z" fill="#e3e3e3" stroke="#5e5e5e" stroke-width="2" stroke-linejoin="miter"/>
<path d="M400.3 1408.6 L407.5 1420.9 L393.1 1420.9 Z" fill="#e3e3e3" stroke="#5e5e5e" stroke-width="2" stroke-linejoin="miter"/>
<path d="M425.7 1408.6 L432.9 1420.9 L418.5 1420.9 Z" fill="#e3e3e3" stroke="#5e5e5e" stroke-width="2" stroke-linejoin="miter"/>
<path d="M445.8 1408.6 L453 1420.9 L438.6 1420.9 Z" fill="#e3e3e3" stroke="#5e5e5e" stroke-width="2" stroke-linejoin="miter"/>
<path d="M485.4 1408.6 L492.6 1420.9 L478.2 1420.9 Z" fill="#e3e3e3" stroke="#5e5e5e" stroke-width="2" stroke-linejoin="miter"/>
<path d="M515.8 1408.6 L523 1420.9 L508.6 1420.9 Z" fill="#e3e3e3" stroke="#5e5e5e" stroke-width="2" stroke-linejoin="miter"/>
<path d="M561.7 1408.6 L568.9 1420.9 L554.5 1420.9 Z" fill="#e3e3e3" stroke="#5e5e5e" stroke-width="2" stroke-linejoin="miter"/>
<path d="M576.1 1408.6 L583.3 1420.9 L568.9 1420.9 Z" fill="#e3e3e3" stroke="#5e5e5e" stroke-width="2" stroke-linejoin="miter"/>
<path d="M586.9 1408.6 L594.1 1420.9 L579.7 1420.9 Z" fill="#e3e3e3" stroke="#5e5e5e" stroke-width="2" stroke-linejoin="miter"/>
<path d="M597.7 1408.6 L604.9 1420.9 L590.5 1420.9 Z" fill="#e3e3e3" stroke="#5e5e5e" stroke-width="2" stroke-linejoin="miter"/>
<path d="M626.6 1408.6 L633.8 1420.9 L619.4 1420.9 Z" fill="#e3e3e3" stroke="#5e5e5e" stroke-width="2" stroke-linejoin="miter"/>
<path d="M641.1 1408.6 L648.3 1420.9 L633.9 1420.9 Z" fill="#e3e3e3" stroke="#5e5e5e" stroke-width="2" stroke-linejoin="miter"/>
<path d="M672.3 1408.6 L679.5 1420.9 L665.1 1420.9 Z" fill="#e3e3e3" stroke="#5e5e5e" stroke-width="2" stroke-linejoin="miter"/>
<path d="M694 1408.6 L701.2 1420.9 L686.8 1420.9 Z" fill="#e3e3e3" stroke="#5e5e5e" stroke-width="2" stroke-linejoin="miter"/>
<path d="M701 1408.6 L708.2 1420.9 L693.8 1420.9 Z" fill="#e3e3e3" stroke="#5e5e5e" stroke-width="2" stroke-linejoin="miter"/>
<path d="M706 1408.6 L713.2 1420.9 L698.8 1420.9 Z" fill="#e3e3e3" stroke="#5e5e5e" stroke-width="2" stroke-linejoin="miter"/>
<path d="M711 1408.6 L718.2 1420.9 L703.8 1420.9 Z" fill="#e3e3e3" stroke="#5e5e5e" stroke-width="2" stroke-linejoin="miter"/>
<path d="M716.9 1408.6 L724.1 1420.9 L709.7 1420.9 Z" fill="#e3e3e3" stroke="#5e5e5e" stroke-width="2" stroke-linejoin="miter"/>
<path d="M728.9 1408.6 L736.1 1420.9 L721.7 1420.9 Z" fill="#e3e3e3" stroke="#5e5e5e" stroke-width="2" stroke-linejoin="miter"/>
<path d="M740.9 1408.6 L748.1 1420.9 L733.7 1420.9 Z" fill="#e3e3e3" stroke="#5e5e5e" stroke-width="2" stroke-linejoin="miter"/>
<path d="M773.4 1408.6 L780.6 1420.9 L766.2 1420.9 Z" fill="#e3e3e3" stroke="#5e5e5e" stroke-width="2" stroke-linejoin="miter"/>
<path d="M799.9 1408.6 L807.1 1420.9 L792.7 1420.9 Z" fill="#e3e3e3" stroke="#5e5e5e" stroke-width="2" stroke-linejoin="miter"/>
<path d="M809.5 1408.6 L816.7 1420.9 L802.3 1420.9 Z" fill="#e3e3e3" stroke="#5e5e5e" stroke-width="2" stroke-linejoin="miter"/>
<path d="M816 1408.6 L823.2 1420.9 L808.8 1420.9 Z" fill="#e3e3e3" stroke="#5e5e5e" stroke-width="2" stroke-linejoin="miter"/>
<path d="M820.3 1408.6 L827.5 1420.9 L813.1 1420.9 Z" fill="#e3e3e3" stroke="#5e5e5e" stroke-width="2" stroke-linejoin="miter"/>
<path d="M825 1408.6 L832.2 1420.9 L817.8 1420.9 Z" fill="#e3e3e3" stroke="#5e5e5e" stroke-width="2" stroke-linejoin="miter"/>
<path d="M832.3 1408.6 L839.5 1420.9 L825.1 1420.9 Z" fill="#e3e3e3" stroke="#5e5e5e" stroke-width="2" stroke-linejoin="miter"/>
<path d="M844.4 1408.6 L851.6 1420.9 L837.2 1420.9 Z" fill="#e3e3e3" stroke="#5e5e5e" stroke-width="2" stroke-linejoin="miter"/>
<path d="M855.2 1408.6 L862.4 1420.9 L848 1420.9 Z" fill="#e3e3e3" stroke="#5e5e5e" stroke-width="2" stroke-linejoin="miter"/>
<path d="M878.1 1408.6 L885.3 1420.9 L870.9 1420.9 Z" fill="#e3e3e3" stroke="#5e5e5e" stroke-width="2" stroke-linejoin="miter"/>
<path d="M946.6 1408.6 L953.8 1420.9 L939.4 1420.9 Z" fill="#e3e3e3" stroke="#5e5e5e" stroke-width="2" stroke-linejoin="miter"/>
<path d="M961.1 1408.6 L968.3 1420.9 L953.9 1420.9 Z" fill="#e3e3e3" stroke="#5e5e5e" stroke-width="2" stroke-linejoin="miter"/>
<path d="M976.1 1408.6 L983.3 1420.9 L968.9 1420.9 Z" fill="#e3e3e3" stroke="#5e5e5e" stroke-width="2" stroke-linejoin="miter"/>
<path d="M983.5 1408.6 L990.7 1420.9 L976.3 1420.9 Z" fill="#e3e3e3" stroke="#5e5e5e" stroke-width="2" stroke-linejoin="miter"/>
<path d="M1018.8 1408.6 L1026 1420.9 L1011.6 1420.9 Z" fill="#e3e3e3" stroke="#5e5e5e" stroke-width="2" stroke-linejoin="miter"/>
<path d="M1085.2 1408.6 L1092.4 1420.9 L1078 1420.9 Z" fill="#e3e3e3" stroke="#5e5e5e" stroke-width="2" stroke-linejoin="miter"/>
<path d="M1122.4 1408.6 L1129.6 1420.9 L1115.2 1420.9 Z" fill="#e3e3e3" stroke="#5e5e5e" stroke-width="2" stroke-linejoin="miter"/>
<path d="M1236.8 1408.6 L1244 1420.9 L1229.6 1420.9 Z" fill="#e3e3e3" stroke="#5e5e5e" stroke-width="2" stroke-linejoin="miter"/>
<path d="M1256.9 1408.6 L1264.1 1420.9 L1249.7 1420.9 Z" fill="#e3e3e3" stroke="#5e5e5e" stroke-width="2" stroke-linejoin="miter"/>
<path d="M1295.6 1408.6 L1302.8 1420.9 L1288.4 1420.9 Z" fill="#e3e3e3" stroke="#5e5e5e" stroke-width="2" stroke-linejoin="miter"/>
<path d="M1308.3 1408.6 L1315.5 1420.9 L1301.1 1420.9 Z" fill="#e3e3e3" stroke="#5e5e5e" stroke-width="2" stroke-linejoin="miter"/>
<line x1="582.3" y1="1397.4" x2="610.6" y2="1397.4" stroke="#000" stroke-width="3"/>
<line x1="582.3" y1="1390.6" x2="582.3" y2="1404.3" stroke="#000" stroke-width="2.8"/>
<line x1="610.6" y1="1390.6" x2="610.6" y2="1404.3" stroke="#000" stroke-width="2.8"/>
<line x1="692.8" y1="1397.4" x2="744.5" y2="1397.4" stroke="#000" stroke-width="3"/>
<line x1="692.8" y1="1390.6" x2="692.8" y2="1404.3" stroke="#000" stroke-width="2.8"/>
<line x1="744.5" y1="1390.6" x2="744.5" y2="1404.3" stroke="#000" stroke-width="2.8"/>
<line x1="744.5" y1="1397.4" x2="780.6" y2="1397.4" stroke="#000" stroke-width="3"/>
<line x1="744.5" y1="1390.6" x2="744.5" y2="1404.3" stroke="#000" stroke-width="2.8"/>
<line x1="780.6" y1="1390.6" x2="780.6" y2="1404.3" stroke="#000" stroke-width="2.8"/>
<line x1="780.6" y1="1397.4" x2="804.7" y2="1397.4" stroke="#000" stroke-width="3"/>
<line x1="780.6" y1="1390.6" x2="780.6" y2="1404.3" stroke="#000" stroke-width="2.8"/>
<line x1="804.7" y1="1390.6" x2="804.7" y2="1404.3" stroke="#000" stroke-width="2.8"/>
<line x1="804.7" y1="1397.4" x2="864.8" y2="1397.4" stroke="#000" stroke-width="3"/>
<line x1="804.7" y1="1390.6" x2="804.7" y2="1404.3" stroke="#000" stroke-width="2.8"/>
<line x1="864.8" y1="1390.6" x2="864.8" y2="1404.3" stroke="#000" stroke-width="2.8"/>
<line x1="925.8" y1="1397.4" x2="1021.4" y2="1397.4" stroke="#000" stroke-width="3"/>
<line x1="925.8" y1="1390.6" x2="925.8" y2="1404.3" stroke="#000" stroke-width="2.8"/>
<line x1="1021.4" y1="1390.6" x2="1021.4" y2="1404.3" stroke="#000" stroke-width="2.8"/>
<line x1="1266.8" y1="1397.4" x2="1334.2" y2="1397.4" stroke="#000" stroke-width="3"/>
<line x1="1266.8" y1="1390.6" x2="1266.8" y2="1404.3" stroke="#000" stroke-width="2.8"/>
<line x1="1334.2" y1="1390.6" x2="1334.2" y2="1404.3" stroke="#000" stroke-width="2.8"/>
<path d="M596.4 1388.6 L604.4 1402.6 L588.4 1402.6 Z" fill="#ffff00" stroke="#000" stroke-width="2.8" stroke-linejoin="miter"/>
<path d="M727.7 1388.6 L735.7 1402.6 L719.7 1402.6 Z" fill="#ffff00" stroke="#000" stroke-width="2.8" stroke-linejoin="miter"/>
<path d="M768.1 1388.6 L776.1 1402.6 L760.1 1402.6 Z" fill="#ffff00" stroke="#000" stroke-width="2.8" stroke-linejoin="miter"/>
<path d="M792.2 1388.6 L800.2 1402.6 L784.2 1402.6 Z" fill="#ffff00" stroke="#000" stroke-width="2.8" stroke-linejoin="miter"/>
<path d="M833.1 1388.6 L841.1 1402.6 L825.1 1402.6 Z" fill="#ffff00" stroke="#000" stroke-width="2.8" stroke-linejoin="miter"/>
<path d="M972.9 1388.6 L980.9 1402.6 L964.9 1402.6 Z" fill="#ffff00" stroke="#000" stroke-width="2.8" stroke-linejoin="miter"/>
<path d="M1321.2 1388.6 L1329.2 1402.6 L1313.2 1402.6 Z" fill="#ffff00" stroke="#000" stroke-width="2.8" stroke-linejoin="miter"/>
<text x="338" y="1376.7" font-size="24.3" font-weight="bold" fill="#666" font-family="Liberation Sans, sans-serif" >Calibrated <tspan font-size="17" dy="-10">14</tspan><tspan dy="10">C ages</tspan></text>
<rect x="582" y="1361.5" width="214" height="18" fill="#fff"/>
<text x="583.6" y="1376.5" font-size="24.3" font-weight="bold" fill="#000" font-family="Liberation Sans, sans-serif" >Antarctic tiepoints</text>
<text x="305.6" y="47.8" font-size="42" font-weight="bold" fill="#000" font-family="Liberation Sans, sans-serif" >a</text>
<text x="305.4" y="572.6" font-size="42" font-weight="bold" fill="#000" font-family="Liberation Sans, sans-serif" >b</text>
<text x="305.4" y="859.4" font-size="42" font-weight="bold" fill="#000" font-family="Liberation Sans, sans-serif" >c</text>
<text x="296.6" y="1377.2" font-size="42" font-weight="bold" fill="#000" font-family="Liberation Sans, sans-serif" >d</text>
<line x1="291.9" y1="1431" x2="1355" y2="1431" stroke="#000" stroke-width="4" stroke-linecap="round"/>
<line x1="291.9" y1="1431" x2="291.9" y2="1453.5" stroke="#000" stroke-width="4" stroke-linecap="round"/>
<text x="291.9" y="1500.6" font-size="34.6" font-weight="bold" text-anchor="middle" fill="#000" font-family="Liberation Sans, sans-serif" >0</text>
<line x1="310.4" y1="1431" x2="310.4" y2="1442.8" stroke="#000" stroke-width="4" stroke-linecap="round"/>
<line x1="329" y1="1431" x2="329" y2="1442.8" stroke="#000" stroke-width="4" stroke-linecap="round"/>
<line x1="347.5" y1="1431" x2="347.5" y2="1442.8" stroke="#000" stroke-width="4" stroke-linecap="round"/>
<line x1="366.1" y1="1431" x2="366.1" y2="1453.5" stroke="#000" stroke-width="4" stroke-linecap="round"/>
<text x="366.1" y="1500.6" font-size="34.6" font-weight="bold" text-anchor="middle" fill="#000" font-family="Liberation Sans, sans-serif" >2</text>
<line x1="384.6" y1="1431" x2="384.6" y2="1442.8" stroke="#000" stroke-width="4" stroke-linecap="round"/>
<line x1="403.2" y1="1431" x2="403.2" y2="1442.8" stroke="#000" stroke-width="4" stroke-linecap="round"/>
<line x1="421.8" y1="1431" x2="421.8" y2="1442.8" stroke="#000" stroke-width="4" stroke-linecap="round"/>
<line x1="440.3" y1="1431" x2="440.3" y2="1453.5" stroke="#000" stroke-width="4" stroke-linecap="round"/>
<text x="440.3" y="1500.6" font-size="34.6" font-weight="bold" text-anchor="middle" fill="#000" font-family="Liberation Sans, sans-serif" >4</text>
<line x1="458.9" y1="1431" x2="458.9" y2="1442.8" stroke="#000" stroke-width="4" stroke-linecap="round"/>
<line x1="477.4" y1="1431" x2="477.4" y2="1442.8" stroke="#000" stroke-width="4" stroke-linecap="round"/>
<line x1="495.9" y1="1431" x2="495.9" y2="1442.8" stroke="#000" stroke-width="4" stroke-linecap="round"/>
<line x1="514.5" y1="1431" x2="514.5" y2="1453.5" stroke="#000" stroke-width="4" stroke-linecap="round"/>
<text x="514.5" y="1500.6" font-size="34.6" font-weight="bold" text-anchor="middle" fill="#000" font-family="Liberation Sans, sans-serif" >6</text>
<line x1="533" y1="1431" x2="533" y2="1442.8" stroke="#000" stroke-width="4" stroke-linecap="round"/>
<line x1="551.6" y1="1431" x2="551.6" y2="1442.8" stroke="#000" stroke-width="4" stroke-linecap="round"/>
<line x1="570.1" y1="1431" x2="570.1" y2="1442.8" stroke="#000" stroke-width="4" stroke-linecap="round"/>
<line x1="588.7" y1="1431" x2="588.7" y2="1453.5" stroke="#000" stroke-width="4" stroke-linecap="round"/>
<text x="588.7" y="1500.6" font-size="34.6" font-weight="bold" text-anchor="middle" fill="#000" font-family="Liberation Sans, sans-serif" >8</text>
<line x1="607.2" y1="1431" x2="607.2" y2="1442.8" stroke="#000" stroke-width="4" stroke-linecap="round"/>
<line x1="625.8" y1="1431" x2="625.8" y2="1442.8" stroke="#000" stroke-width="4" stroke-linecap="round"/>
<line x1="644.3" y1="1431" x2="644.3" y2="1442.8" stroke="#000" stroke-width="4" stroke-linecap="round"/>
<line x1="662.9" y1="1431" x2="662.9" y2="1453.5" stroke="#000" stroke-width="4" stroke-linecap="round"/>
<text x="662.9" y="1500.6" font-size="34.6" font-weight="bold" text-anchor="middle" fill="#000" font-family="Liberation Sans, sans-serif" >10</text>
<line x1="681.5" y1="1431" x2="681.5" y2="1442.8" stroke="#000" stroke-width="4" stroke-linecap="round"/>
<line x1="700" y1="1431" x2="700" y2="1442.8" stroke="#000" stroke-width="4" stroke-linecap="round"/>
<line x1="718.5" y1="1431" x2="718.5" y2="1442.8" stroke="#000" stroke-width="4" stroke-linecap="round"/>
<line x1="737.1" y1="1431" x2="737.1" y2="1453.5" stroke="#000" stroke-width="4" stroke-linecap="round"/>
<text x="737.1" y="1500.6" font-size="34.6" font-weight="bold" text-anchor="middle" fill="#000" font-family="Liberation Sans, sans-serif" >12</text>
<line x1="755.6" y1="1431" x2="755.6" y2="1442.8" stroke="#000" stroke-width="4" stroke-linecap="round"/>
<line x1="774.2" y1="1431" x2="774.2" y2="1442.8" stroke="#000" stroke-width="4" stroke-linecap="round"/>
<line x1="792.8" y1="1431" x2="792.8" y2="1442.8" stroke="#000" stroke-width="4" stroke-linecap="round"/>
<line x1="811.3" y1="1431" x2="811.3" y2="1453.5" stroke="#000" stroke-width="4" stroke-linecap="round"/>
<text x="811.3" y="1500.6" font-size="34.6" font-weight="bold" text-anchor="middle" fill="#000" font-family="Liberation Sans, sans-serif" >14</text>
<line x1="829.9" y1="1431" x2="829.9" y2="1442.8" stroke="#000" stroke-width="4" stroke-linecap="round"/>
<line x1="848.4" y1="1431" x2="848.4" y2="1442.8" stroke="#000" stroke-width="4" stroke-linecap="round"/>
<line x1="867" y1="1431" x2="867" y2="1442.8" stroke="#000" stroke-width="4" stroke-linecap="round"/>
<line x1="885.5" y1="1431" x2="885.5" y2="1453.5" stroke="#000" stroke-width="4" stroke-linecap="round"/>
<text x="885.5" y="1500.6" font-size="34.6" font-weight="bold" text-anchor="middle" fill="#000" font-family="Liberation Sans, sans-serif" >16</text>
<line x1="904" y1="1431" x2="904" y2="1442.8" stroke="#000" stroke-width="4" stroke-linecap="round"/>
<line x1="922.6" y1="1431" x2="922.6" y2="1442.8" stroke="#000" stroke-width="4" stroke-linecap="round"/>
<line x1="941.1" y1="1431" x2="941.1" y2="1442.8" stroke="#000" stroke-width="4" stroke-linecap="round"/>
<line x1="959.7" y1="1431" x2="959.7" y2="1453.5" stroke="#000" stroke-width="4" stroke-linecap="round"/>
<text x="959.7" y="1500.6" font-size="34.6" font-weight="bold" text-anchor="middle" fill="#000" font-family="Liberation Sans, sans-serif" >18</text>
<line x1="978.2" y1="1431" x2="978.2" y2="1442.8" stroke="#000" stroke-width="4" stroke-linecap="round"/>
<line x1="996.8" y1="1431" x2="996.8" y2="1442.8" stroke="#000" stroke-width="4" stroke-linecap="round"/>
<line x1="1015.4" y1="1431" x2="1015.4" y2="1442.8" stroke="#000" stroke-width="4" stroke-linecap="round"/>
<line x1="1033.9" y1="1431" x2="1033.9" y2="1453.5" stroke="#000" stroke-width="4" stroke-linecap="round"/>
<text x="1033.9" y="1500.6" font-size="34.6" font-weight="bold" text-anchor="middle" fill="#000" font-family="Liberation Sans, sans-serif" >20</text>
<line x1="1052.5" y1="1431" x2="1052.5" y2="1442.8" stroke="#000" stroke-width="4" stroke-linecap="round"/>
<line x1="1071" y1="1431" x2="1071" y2="1442.8" stroke="#000" stroke-width="4" stroke-linecap="round"/>
<line x1="1089.5" y1="1431" x2="1089.5" y2="1442.8" stroke="#000" stroke-width="4" stroke-linecap="round"/>
<line x1="1108.1" y1="1431" x2="1108.1" y2="1453.5" stroke="#000" stroke-width="4" stroke-linecap="round"/>
<text x="1108.1" y="1500.6" font-size="34.6" font-weight="bold" text-anchor="middle" fill="#000" font-family="Liberation Sans, sans-serif" >22</text>
<line x1="1126.7" y1="1431" x2="1126.7" y2="1442.8" stroke="#000" stroke-width="4" stroke-linecap="round"/>
<line x1="1145.2" y1="1431" x2="1145.2" y2="1442.8" stroke="#000" stroke-width="4" stroke-linecap="round"/>
<line x1="1163.8" y1="1431" x2="1163.8" y2="1442.8" stroke="#000" stroke-width="4" stroke-linecap="round"/>
<line x1="1182.3" y1="1431" x2="1182.3" y2="1453.5" stroke="#000" stroke-width="4" stroke-linecap="round"/>
<text x="1182.3" y="1500.6" font-size="34.6" font-weight="bold" text-anchor="middle" fill="#000" font-family="Liberation Sans, sans-serif" >24</text>
<line x1="1200.8" y1="1431" x2="1200.8" y2="1442.8" stroke="#000" stroke-width="4" stroke-linecap="round"/>
<line x1="1219.4" y1="1431" x2="1219.4" y2="1442.8" stroke="#000" stroke-width="4" stroke-linecap="round"/>
<line x1="1238" y1="1431" x2="1238" y2="1442.8" stroke="#000" stroke-width="4" stroke-linecap="round"/>
<line x1="1256.5" y1="1431" x2="1256.5" y2="1453.5" stroke="#000" stroke-width="4" stroke-linecap="round"/>
<text x="1256.5" y="1500.6" font-size="34.6" font-weight="bold" text-anchor="middle" fill="#000" font-family="Liberation Sans, sans-serif" >26</text>
<line x1="1275.1" y1="1431" x2="1275.1" y2="1442.8" stroke="#000" stroke-width="4" stroke-linecap="round"/>
<line x1="1293.6" y1="1431" x2="1293.6" y2="1442.8" stroke="#000" stroke-width="4" stroke-linecap="round"/>
<line x1="1312.2" y1="1431" x2="1312.2" y2="1442.8" stroke="#000" stroke-width="4" stroke-linecap="round"/>
<line x1="1330.7" y1="1431" x2="1330.7" y2="1453.5" stroke="#000" stroke-width="4" stroke-linecap="round"/>
<text x="1330.7" y="1500.6" font-size="34.6" font-weight="bold" text-anchor="middle" fill="#000" font-family="Liberation Sans, sans-serif" >28</text>
<text x="811.2" y="1559.9" font-size="34.6" font-weight="bold" text-anchor="middle" fill="#000" font-family="Liberation Sans, sans-serif" >Age (kyr BP)</text>
<line x1="80.3" y1="513.7" x2="80.3" y2="1061.7" stroke="#000" stroke-width="4" stroke-linecap="square"/>
<line x1="68.9" y1="513.7" x2="80.3" y2="513.7" stroke="#000" stroke-width="4" stroke-linecap="round"/>
<line x1="56.8" y1="552.8" x2="80.3" y2="552.8" stroke="#000" stroke-width="4" stroke-linecap="round"/>
<line x1="68.9" y1="592" x2="80.3" y2="592" stroke="#000" stroke-width="4" stroke-linecap="round"/>
<line x1="56.8" y1="631.1" x2="80.3" y2="631.1" stroke="#000" stroke-width="4" stroke-linecap="round"/>
<line x1="68.9" y1="670.3" x2="80.3" y2="670.3" stroke="#000" stroke-width="4" stroke-linecap="round"/>
<line x1="56.8" y1="709.4" x2="80.3" y2="709.4" stroke="#000" stroke-width="4" stroke-linecap="round"/>
<line x1="68.9" y1="748.6" x2="80.3" y2="748.6" stroke="#000" stroke-width="4" stroke-linecap="round"/>
<line x1="56.8" y1="787.7" x2="80.3" y2="787.7" stroke="#000" stroke-width="4" stroke-linecap="round"/>
<line x1="68.9" y1="826.8" x2="80.3" y2="826.8" stroke="#000" stroke-width="4" stroke-linecap="round"/>
<line x1="56.8" y1="866" x2="80.3" y2="866" stroke="#000" stroke-width="4" stroke-linecap="round"/>
<line x1="68.9" y1="905.1" x2="80.3" y2="905.1" stroke="#000" stroke-width="4" stroke-linecap="round"/>
<line x1="56.8" y1="944.3" x2="80.3" y2="944.3" stroke="#000" stroke-width="4" stroke-linecap="round"/>
<line x1="68.9" y1="983.4" x2="80.3" y2="983.4" stroke="#000" stroke-width="4" stroke-linecap="round"/>
<line x1="56.8" y1="1022.6" x2="80.3" y2="1022.6" stroke="#000" stroke-width="4" stroke-linecap="round"/>
<line x1="68.9" y1="1061.7" x2="80.3" y2="1061.7" stroke="#000" stroke-width="4" stroke-linecap="round"/>
<line x1="291.2" y1="512" x2="291.2" y2="1063.5" stroke="#000" stroke-width="4"/>
<line x1="268.8" y1="513.7" x2="291.2" y2="513.7" stroke="#000" stroke-width="4" stroke-linecap="round"/>
<text x="247.3" y="524.7" font-size="34.6" font-weight="bold" text-anchor="end" fill="#000" font-family="Liberation Sans, sans-serif" >−380</text>
<line x1="278.6" y1="552.9" x2="291.2" y2="552.9" stroke="#000" stroke-width="4" stroke-linecap="round"/>
<line x1="268.8" y1="592" x2="291.2" y2="592" stroke="#000" stroke-width="4" stroke-linecap="round"/>
<text x="247.3" y="603" font-size="34.6" font-weight="bold" text-anchor="end" fill="#000" font-family="Liberation Sans, sans-serif" >−390</text>
<line x1="278.6" y1="631.2" x2="291.2" y2="631.2" stroke="#000" stroke-width="4" stroke-linecap="round"/>
<line x1="268.8" y1="670.3" x2="291.2" y2="670.3" stroke="#000" stroke-width="4" stroke-linecap="round"/>
<text x="247.3" y="681.3" font-size="34.6" font-weight="bold" text-anchor="end" fill="#000" font-family="Liberation Sans, sans-serif" >−400</text>
<line x1="278.6" y1="709.5" x2="291.2" y2="709.5" stroke="#000" stroke-width="4" stroke-linecap="round"/>
<line x1="268.8" y1="748.6" x2="291.2" y2="748.6" stroke="#000" stroke-width="4" stroke-linecap="round"/>
<text x="247.3" y="759.6" font-size="34.6" font-weight="bold" text-anchor="end" fill="#000" font-family="Liberation Sans, sans-serif" >−410</text>
<line x1="278.6" y1="787.8" x2="291.2" y2="787.8" stroke="#000" stroke-width="4" stroke-linecap="round"/>
<line x1="268.8" y1="826.9" x2="291.2" y2="826.9" stroke="#000" stroke-width="4" stroke-linecap="round"/>
<text x="247.3" y="837.9" font-size="34.6" font-weight="bold" text-anchor="end" fill="#000" font-family="Liberation Sans, sans-serif" >−420</text>
<line x1="278.6" y1="866.1" x2="291.2" y2="866.1" stroke="#000" stroke-width="4" stroke-linecap="round"/>
<line x1="268.8" y1="905.2" x2="291.2" y2="905.2" stroke="#000" stroke-width="4" stroke-linecap="round"/>
<text x="247.3" y="916.2" font-size="34.6" font-weight="bold" text-anchor="end" fill="#000" font-family="Liberation Sans, sans-serif" >−430</text>
<line x1="278.6" y1="944.4" x2="291.2" y2="944.4" stroke="#000" stroke-width="4" stroke-linecap="round"/>
<line x1="268.8" y1="983.5" x2="291.2" y2="983.5" stroke="#000" stroke-width="4" stroke-linecap="round"/>
<text x="247.3" y="994.5" font-size="34.6" font-weight="bold" text-anchor="end" fill="#000" font-family="Liberation Sans, sans-serif" >−440</text>
<line x1="278.6" y1="1022.7" x2="291.2" y2="1022.7" stroke="#000" stroke-width="4" stroke-linecap="round"/>
<line x1="268.8" y1="1061.8" x2="291.2" y2="1061.8" stroke="#000" stroke-width="4" stroke-linecap="round"/>
<text x="247.3" y="1072.8" font-size="34.6" font-weight="bold" text-anchor="end" fill="#000" font-family="Liberation Sans, sans-serif" >−450</text>
<line x1="1334.1" y1="5.5" x2="1334.1" y2="543.6" stroke="#000" stroke-width="3.8"/>
<line x1="1334" y1="541.8" x2="1357.6" y2="541.8" stroke="#000" stroke-width="4" stroke-linecap="round"/>
<text x="1377.8" y="552.8" font-size="34.6" font-weight="bold" text-anchor="start" fill="#000" font-family="Liberation Sans, sans-serif" >0</text>
<line x1="1334" y1="493.2" x2="1346.5" y2="493.2" stroke="#000" stroke-width="4" stroke-linecap="round"/>
<line x1="1334" y1="444.6" x2="1357.6" y2="444.6" stroke="#000" stroke-width="4" stroke-linecap="round"/>
<text x="1377.8" y="455.6" font-size="34.6" font-weight="bold" text-anchor="start" fill="#000" font-family="Liberation Sans, sans-serif" >5</text>
<line x1="1334" y1="396" x2="1346.5" y2="396" stroke="#000" stroke-width="4" stroke-linecap="round"/>
<line x1="1334" y1="347.4" x2="1357.6" y2="347.4" stroke="#000" stroke-width="4" stroke-linecap="round"/>
<text x="1377.8" y="358.4" font-size="34.6" font-weight="bold" text-anchor="start" fill="#000" font-family="Liberation Sans, sans-serif" >10</text>
<line x1="1334" y1="298.8" x2="1346.5" y2="298.8" stroke="#000" stroke-width="4" stroke-linecap="round"/>
<line x1="1334" y1="250.2" x2="1357.6" y2="250.2" stroke="#000" stroke-width="4" stroke-linecap="round"/>
<text x="1377.8" y="261.2" font-size="34.6" font-weight="bold" text-anchor="start" fill="#000" font-family="Liberation Sans, sans-serif" >15</text>
<line x1="1334" y1="201.6" x2="1346.5" y2="201.6" stroke="#000" stroke-width="4" stroke-linecap="round"/>
<line x1="1334" y1="153" x2="1357.6" y2="153" stroke="#000" stroke-width="4" stroke-linecap="round"/>
<text x="1377.8" y="164" font-size="34.6" font-weight="bold" text-anchor="start" fill="#000" font-family="Liberation Sans, sans-serif" >20</text>
<line x1="1334" y1="104.4" x2="1346.5" y2="104.4" stroke="#000" stroke-width="4" stroke-linecap="round"/>
<line x1="1334" y1="55.8" x2="1357.6" y2="55.8" stroke="#000" stroke-width="4" stroke-linecap="round"/>
<text x="1377.8" y="66.8" font-size="34.6" font-weight="bold" text-anchor="start" fill="#000" font-family="Liberation Sans, sans-serif" >25</text>
<line x1="1334" y1="7.2" x2="1346.5" y2="7.2" stroke="#000" stroke-width="4" stroke-linecap="round"/>
<line x1="1334.1" y1="866.7" x2="1334.1" y2="1431" stroke="#000" stroke-width="3.8"/>
<line x1="1334" y1="868.6" x2="1355.5" y2="868.6" stroke="#000" stroke-width="4" stroke-linecap="round"/>
<text x="1377.8" y="879.6" font-size="34.6" font-weight="bold" text-anchor="start" fill="#000" font-family="Liberation Sans, sans-serif" >14</text>
<line x1="1334" y1="892" x2="1344.5" y2="892" stroke="#000" stroke-width="4" stroke-linecap="round"/>
<line x1="1334" y1="915.4" x2="1355.5" y2="915.4" stroke="#000" stroke-width="4" stroke-linecap="round"/>
<text x="1377.8" y="926.4" font-size="34.6" font-weight="bold" text-anchor="start" fill="#000" font-family="Liberation Sans, sans-serif" >13</text>
<line x1="1334" y1="938.9" x2="1344.5" y2="938.9" stroke="#000" stroke-width="4" stroke-linecap="round"/>
<line x1="1334" y1="962.3" x2="1355.5" y2="962.3" stroke="#000" stroke-width="4" stroke-linecap="round"/>
<text x="1377.8" y="973.3" font-size="34.6" font-weight="bold" text-anchor="start" fill="#000" font-family="Liberation Sans, sans-serif" >12</text>
<line x1="1334" y1="985.7" x2="1344.5" y2="985.7" stroke="#000" stroke-width="4" stroke-linecap="round"/>
<line x1="1334" y1="1009.1" x2="1355.5" y2="1009.1" stroke="#000" stroke-width="4" stroke-linecap="round"/>
<text x="1377.8" y="1020.1" font-size="34.6" font-weight="bold" text-anchor="start" fill="#000" font-family="Liberation Sans, sans-serif" >11</text>
<line x1="1334" y1="1032.5" x2="1344.5" y2="1032.5" stroke="#000" stroke-width="4" stroke-linecap="round"/>
<line x1="1334" y1="1056" x2="1355.5" y2="1056" stroke="#000" stroke-width="4" stroke-linecap="round"/>
<text x="1377.8" y="1067" font-size="34.6" font-weight="bold" text-anchor="start" fill="#000" font-family="Liberation Sans, sans-serif" >10</text>
<line x1="1334" y1="1079.4" x2="1344.5" y2="1079.4" stroke="#000" stroke-width="4" stroke-linecap="round"/>
<line x1="1334" y1="1102.8" x2="1355.5" y2="1102.8" stroke="#000" stroke-width="4" stroke-linecap="round"/>
<text x="1377.8" y="1113.8" font-size="34.6" font-weight="bold" text-anchor="start" fill="#000" font-family="Liberation Sans, sans-serif" >9</text>
<line x1="1334" y1="1126.2" x2="1344.5" y2="1126.2" stroke="#000" stroke-width="4" stroke-linecap="round"/>
<line x1="1334" y1="1149.6" x2="1355.5" y2="1149.6" stroke="#000" stroke-width="4" stroke-linecap="round"/>
<text x="1377.8" y="1160.6" font-size="34.6" font-weight="bold" text-anchor="start" fill="#000" font-family="Liberation Sans, sans-serif" >8</text>
<line x1="1334" y1="1173.1" x2="1344.5" y2="1173.1" stroke="#000" stroke-width="4" stroke-linecap="round"/>
<line x1="1334" y1="1196.5" x2="1355.5" y2="1196.5" stroke="#000" stroke-width="4" stroke-linecap="round"/>
<text x="1377.8" y="1207.5" font-size="34.6" font-weight="bold" text-anchor="start" fill="#000" font-family="Liberation Sans, sans-serif" >7</text>
<line x1="1334" y1="1219.9" x2="1344.5" y2="1219.9" stroke="#000" stroke-width="4" stroke-linecap="round"/>
<line x1="1334" y1="1243.3" x2="1355.5" y2="1243.3" stroke="#000" stroke-width="4" stroke-linecap="round"/>
<text x="1377.8" y="1254.3" font-size="34.6" font-weight="bold" text-anchor="start" fill="#000" font-family="Liberation Sans, sans-serif" >6</text>
<line x1="1334" y1="1266.7" x2="1344.5" y2="1266.7" stroke="#000" stroke-width="4" stroke-linecap="round"/>
<line x1="1334" y1="1290.2" x2="1355.5" y2="1290.2" stroke="#000" stroke-width="4" stroke-linecap="round"/>
<text x="1377.8" y="1301.2" font-size="34.6" font-weight="bold" text-anchor="start" fill="#000" font-family="Liberation Sans, sans-serif" >5</text>
<line x1="1334" y1="1313.6" x2="1344.5" y2="1313.6" stroke="#000" stroke-width="4" stroke-linecap="round"/>
<line x1="1334" y1="1337" x2="1355.5" y2="1337" stroke="#000" stroke-width="4" stroke-linecap="round"/>
<text x="1377.8" y="1348" font-size="34.6" font-weight="bold" text-anchor="start" fill="#000" font-family="Liberation Sans, sans-serif" >4</text>
<line x1="1334" y1="1360.4" x2="1344.5" y2="1360.4" stroke="#000" stroke-width="4" stroke-linecap="round"/>
<line x1="1334" y1="1383.8" x2="1355.5" y2="1383.8" stroke="#000" stroke-width="4" stroke-linecap="round"/>
<text x="1377.8" y="1394.8" font-size="34.6" font-weight="bold" text-anchor="start" fill="#000" font-family="Liberation Sans, sans-serif" >3</text>
<line x1="1334" y1="1407.3" x2="1344.5" y2="1407.3" stroke="#000" stroke-width="4" stroke-linecap="round"/>
<line x1="1334" y1="1430.7" x2="1355.5" y2="1430.7" stroke="#000" stroke-width="4" stroke-linecap="round"/>
<text x="1377.8" y="1441.7" font-size="34.6" font-weight="bold" text-anchor="start" fill="#000" font-family="Liberation Sans, sans-serif" >2</text>
<text font-size="34.6" font-weight="bold" text-anchor="middle" fill="#ff3399" font-family="Liberation Sans, sans-serif" transform="translate(26.4 786.5) rotate(-90)">PC1 All (sub-)SST records</text>
<text font-size="34.6" font-weight="bold" text-anchor="middle" fill="#000" font-family="Liberation Sans, sans-serif" transform="translate(133.3 785) rotate(-90)">EDC <tspan font-family="Liberation Serif, serif" font-weight="normal">δ</tspan>D (‰ VSMOW)</text>
<text font-size="34.6" font-weight="bold" text-anchor="middle" fill="#000" font-family="Liberation Sans, sans-serif" transform="translate(1488 271.5) rotate(-90)"><tspan font-size="24" dy="-16.5">14</tspan><tspan dy="16.5">C age (kyr BP)</tspan></text>
<text font-size="34.6" font-weight="bold" text-anchor="middle" fill="#000" font-family="Liberation Sans, sans-serif" transform="translate(1475.2 1146.7) rotate(-90)">(Sub-)SST (°C)</text>
</svg></body></html>
